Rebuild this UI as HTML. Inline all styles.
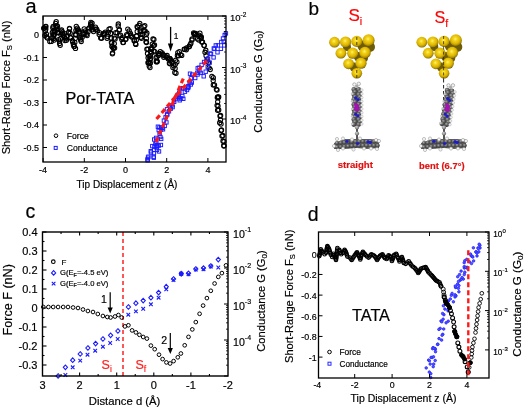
<!DOCTYPE html>
<html><head><meta charset="utf-8"><style>
html,body{margin:0;padding:0;background:#fff;width:525px;height:408px;overflow:hidden}
svg{display:block;will-change:transform;opacity:0.999}
text{font-family:"Liberation Sans",sans-serif;paint-order:stroke}
</style></head><body>
<svg width="525" height="408" viewBox="0 0 525 408">
<defs><radialGradient id="gold" cx="0.45" cy="0.4" r="0.62"><stop offset="0" stop-color="#fff27a"/><stop offset="0.25" stop-color="#f4d41c"/><stop offset="0.62" stop-color="#dfb600"/><stop offset="0.86" stop-color="#a88a00"/><stop offset="1" stop-color="#5c4a00"/></radialGradient><radialGradient id="carb" cx="0.4" cy="0.35" r="0.7"><stop offset="0" stop-color="#a8a8a8"/><stop offset="0.5" stop-color="#5a5a5a"/><stop offset="1" stop-color="#2e2e2e"/></radialGradient><radialGradient id="carb2" cx="0.4" cy="0.35" r="0.7"><stop offset="0" stop-color="#d0d0d0"/><stop offset="0.6" stop-color="#8a8a8a"/><stop offset="1" stop-color="#505050"/></radialGradient></defs>
<rect width="525" height="408" fill="#fff"/>
<g fill="none" stroke="#000" stroke-width="1.05"><circle cx="44.5" cy="28.0" r="2.15"/><circle cx="45.9" cy="26.3" r="2.15"/><circle cx="45.4" cy="30.7" r="2.15"/><circle cx="46.4" cy="34.2" r="2.15"/><circle cx="47.4" cy="38.1" r="2.15"/><circle cx="49.8" cy="41.5" r="2.15"/><circle cx="51.8" cy="37.6" r="2.15"/><circle cx="52.3" cy="32.7" r="2.15"/><circle cx="52.8" cy="27.8" r="2.15"/><circle cx="53.1" cy="31.4" r="2.15"/><circle cx="53.5" cy="35.0" r="2.15"/><circle cx="53.8" cy="38.6" r="2.15"/><circle cx="54.3" cy="34.8" r="2.15"/><circle cx="54.8" cy="31.0" r="2.15"/><circle cx="55.2" cy="27.2" r="2.15"/><circle cx="55.7" cy="23.4" r="2.15"/><circle cx="56.7" cy="25.8" r="2.15"/><circle cx="57.2" cy="29.8" r="2.15"/><circle cx="57.7" cy="32.7" r="2.15"/><circle cx="58.7" cy="39.6" r="2.15"/><circle cx="59.6" cy="43.5" r="2.15"/><circle cx="60.3" cy="38.9" r="2.15"/><circle cx="60.9" cy="34.4" r="2.15"/><circle cx="61.6" cy="29.8" r="2.15"/><circle cx="62.6" cy="32.2" r="2.15"/><circle cx="63.6" cy="35.2" r="2.15"/><circle cx="65.5" cy="38.6" r="2.15"/><circle cx="65.0" cy="40.5" r="2.15"/><circle cx="66.8" cy="36.6" r="2.15"/><circle cx="68.5" cy="32.7" r="2.15"/><circle cx="69.5" cy="28.8" r="2.15"/><circle cx="70.2" cy="33.2" r="2.15"/><circle cx="70.9" cy="37.6" r="2.15"/><circle cx="72.4" cy="40.5" r="2.15"/><circle cx="73.4" cy="44.5" r="2.15"/><circle cx="74.4" cy="46.4" r="2.15"/><circle cx="74.8" cy="42.4" r="2.15"/><circle cx="75.2" cy="38.4" r="2.15"/><circle cx="75.5" cy="34.3" r="2.15"/><circle cx="75.9" cy="30.3" r="2.15"/><circle cx="76.3" cy="26.3" r="2.15"/><circle cx="77.3" cy="29.8" r="2.15"/><circle cx="78.8" cy="32.7" r="2.15"/><circle cx="79.7" cy="37.6" r="2.15"/><circle cx="81.2" cy="41.5" r="2.15"/><circle cx="82.2" cy="37.3" r="2.15"/><circle cx="83.2" cy="33.0" r="2.15"/><circle cx="84.2" cy="28.8" r="2.15"/><circle cx="85.1" cy="33.2" r="2.15"/><circle cx="87.1" cy="35.6" r="2.15"/><circle cx="88.1" cy="31.7" r="2.15"/><circle cx="89.1" cy="27.8" r="2.15"/><circle cx="91.0" cy="24.9" r="2.15"/><circle cx="90.6" cy="24.2" r="2.15"/><circle cx="91.2" cy="27.2" r="2.15"/><circle cx="92.4" cy="29.7" r="2.15"/><circle cx="95.5" cy="27.2" r="2.15"/><circle cx="97.3" cy="30.9" r="2.15"/><circle cx="99.2" cy="34.6" r="2.15"/><circle cx="101.6" cy="38.3" r="2.15"/><circle cx="104.1" cy="34.6" r="2.15"/><circle cx="105.3" cy="32.1" r="2.15"/><circle cx="107.7" cy="36.4" r="2.15"/><circle cx="108.3" cy="32.8" r="2.15"/><circle cx="109.0" cy="29.1" r="2.15"/><circle cx="110.8" cy="33.4" r="2.15"/><circle cx="111.1" cy="38.0" r="2.15"/><circle cx="111.4" cy="42.5" r="2.15"/><circle cx="112.0" cy="46.2" r="2.15"/><circle cx="113.3" cy="48.0" r="2.15"/><circle cx="112.6" cy="52.9" r="2.15"/><circle cx="113.4" cy="48.2" r="2.15"/><circle cx="114.3" cy="43.6" r="2.15"/><circle cx="115.1" cy="38.9" r="2.15"/><circle cx="115.7" cy="32.7" r="2.15"/><circle cx="118.2" cy="26.0" r="2.15"/><circle cx="119.4" cy="29.7" r="2.15"/><circle cx="120.6" cy="35.2" r="2.15"/><circle cx="121.8" cy="39.5" r="2.15"/><circle cx="123.0" cy="42.5" r="2.15"/><circle cx="125.5" cy="39.5" r="2.15"/><circle cx="126.7" cy="34.6" r="2.15"/><circle cx="129.2" cy="30.9" r="2.15"/><circle cx="130.4" cy="33.4" r="2.15"/><circle cx="132.2" cy="37.0" r="2.15"/><circle cx="134.1" cy="40.7" r="2.15"/><circle cx="135.9" cy="44.4" r="2.15"/><circle cx="136.3" cy="40.1" r="2.15"/><circle cx="136.8" cy="35.8" r="2.15"/><circle cx="137.2" cy="31.5" r="2.15"/><circle cx="137.7" cy="27.2" r="2.15"/><circle cx="139.0" cy="25.4" r="2.15"/><circle cx="140.2" cy="30.9" r="2.15"/><circle cx="140.8" cy="34.6" r="2.15"/><circle cx="141.4" cy="38.3" r="2.15"/><circle cx="142.2" cy="34.4" r="2.15"/><circle cx="143.1" cy="30.5" r="2.15"/><circle cx="143.9" cy="26.6" r="2.15"/><circle cx="145.1" cy="30.9" r="2.15"/><circle cx="146.3" cy="34.6" r="2.15"/><circle cx="146.4" cy="38.5" r="2.15"/><circle cx="146.5" cy="42.5" r="2.15"/><circle cx="146.9" cy="49.3" r="2.15"/><circle cx="147.5" cy="53.5" r="2.15"/><circle cx="148.1" cy="57.8" r="2.15"/><circle cx="148.5" cy="62.1" r="2.15"/><circle cx="149.0" cy="62.9" r="2.15"/><circle cx="150.0" cy="67.6" r="2.15"/><circle cx="150.1" cy="63.6" r="2.15"/><circle cx="150.2" cy="59.6" r="2.15"/><circle cx="150.4" cy="55.7" r="2.15"/><circle cx="150.5" cy="51.7" r="2.15"/><circle cx="151.7" cy="49.3" r="2.15"/><circle cx="152.3" cy="44.1" r="2.15"/><circle cx="153.0" cy="38.9" r="2.15"/><circle cx="153.6" cy="45.6" r="2.15"/><circle cx="154.8" cy="51.7" r="2.15"/><circle cx="156.0" cy="57.8" r="2.15"/><circle cx="156.7" cy="61.9" r="2.15"/><circle cx="157.2" cy="61.5" r="2.15"/><circle cx="158.5" cy="55.4" r="2.15"/><circle cx="160.3" cy="51.7" r="2.15"/><circle cx="162.1" cy="52.9" r="2.15"/><circle cx="164.0" cy="55.4" r="2.15"/><circle cx="165.8" cy="56.6" r="2.15"/><circle cx="167.6" cy="57.8" r="2.15"/><circle cx="169.5" cy="58.5" r="2.15"/><circle cx="170.0" cy="63.8" r="2.15"/><circle cx="170.7" cy="60.3" r="2.15"/><circle cx="171.9" cy="62.7" r="2.15"/><circle cx="172.9" cy="67.6" r="2.15"/><circle cx="174.8" cy="72.4" r="2.15"/><circle cx="175.1" cy="68.4" r="2.15"/><circle cx="175.3" cy="64.3" r="2.15"/><circle cx="175.6" cy="60.3" r="2.15"/><circle cx="177.4" cy="55.4" r="2.15"/><circle cx="179.3" cy="51.7" r="2.15"/><circle cx="181.7" cy="55.4" r="2.15"/><circle cx="184.2" cy="49.3" r="2.15"/><circle cx="186.6" cy="48.0" r="2.15"/><circle cx="189.1" cy="46.8" r="2.15"/><circle cx="190.9" cy="43.2" r="2.15"/><circle cx="192.1" cy="38.9" r="2.15"/><circle cx="194.0" cy="34.0" r="2.15"/><circle cx="194.7" cy="33.4" r="2.15"/><circle cx="195.8" cy="33.4" r="2.15"/><circle cx="197.6" cy="38.9" r="2.15"/><circle cx="198.9" cy="35.2" r="2.15"/><circle cx="200.7" cy="36.9" r="2.15"/><circle cx="201.3" cy="37.0" r="2.15"/><circle cx="202.5" cy="41.9" r="2.15"/><circle cx="204.2" cy="45.4" r="2.15"/><circle cx="205.0" cy="52.3" r="2.15"/><circle cx="206.1" cy="55.7" r="2.15"/><circle cx="207.3" cy="59.2" r="2.15"/><circle cx="208.4" cy="62.6" r="2.15"/><circle cx="210.2" cy="69.5" r="2.15"/><circle cx="211.9" cy="76.3" r="2.15"/><circle cx="213.2" cy="80.6" r="2.15"/><circle cx="214.5" cy="84.9" r="2.15"/><circle cx="217.0" cy="90.0" r="2.15"/><circle cx="218.7" cy="96.9" r="2.15"/><circle cx="217.3" cy="97.6" r="2.15"/><circle cx="217.7" cy="101.8" r="2.15"/><circle cx="218.0" cy="106.0" r="2.15"/><circle cx="218.7" cy="110.0" r="2.15"/><circle cx="220.0" cy="116.0" r="2.15"/><circle cx="220.5" cy="120.0" r="2.15"/><circle cx="221.0" cy="124.0" r="2.15"/><circle cx="221.5" cy="130.0" r="2.15"/><circle cx="222.0" cy="136.0" r="2.15"/><circle cx="223.0" cy="141.0" r="2.15"/><circle cx="224.0" cy="146.0" r="2.15"/><circle cx="43.7" cy="28.2" r="2.15"/><circle cx="45.5" cy="26.7" r="2.15"/><circle cx="45.8" cy="29.0" r="2.15"/><circle cx="44.9" cy="35.5" r="2.15"/><circle cx="46.7" cy="37.0" r="2.15"/><circle cx="51.3" cy="41.4" r="2.15"/><circle cx="52.8" cy="37.5" r="2.15"/><circle cx="53.2" cy="26.4" r="2.15"/><circle cx="54.2" cy="40.1" r="2.15"/><circle cx="54.8" cy="32.0" r="2.15"/><circle cx="56.2" cy="21.7" r="2.15"/><circle cx="57.5" cy="26.2" r="2.15"/><circle cx="56.6" cy="27.9" r="2.15"/><circle cx="58.8" cy="32.6" r="2.15"/><circle cx="59.4" cy="41.1" r="2.15"/><circle cx="60.2" cy="45.2" r="2.15"/><circle cx="61.3" cy="31.0" r="2.15"/><circle cx="62.4" cy="33.9" r="2.15"/><circle cx="64.7" cy="33.6" r="2.15"/><circle cx="64.4" cy="37.5" r="2.15"/><circle cx="66.4" cy="40.2" r="2.15"/><circle cx="68.9" cy="31.9" r="2.15"/><circle cx="69.5" cy="28.3" r="2.15"/><circle cx="70.5" cy="37.9" r="2.15"/><circle cx="72.7" cy="42.1" r="2.15"/><circle cx="73.9" cy="46.2" r="2.15"/><circle cx="75.5" cy="48.4" r="2.15"/><circle cx="75.9" cy="35.0" r="2.15"/><circle cx="77.4" cy="28.2" r="2.15"/><circle cx="78.5" cy="30.1" r="2.15"/><circle cx="79.4" cy="31.5" r="2.15"/><circle cx="80.7" cy="37.9" r="2.15"/><circle cx="80.6" cy="39.8" r="2.15"/><circle cx="85.3" cy="30.8" r="2.15"/><circle cx="83.9" cy="34.4" r="2.15"/><circle cx="86.8" cy="34.2" r="2.15"/><circle cx="88.5" cy="28.9" r="2.15"/><circle cx="92.1" cy="23.1" r="2.15"/><circle cx="90.9" cy="22.4" r="2.15"/><circle cx="91.9" cy="26.5" r="2.15"/><circle cx="93.5" cy="31.6" r="2.15"/><circle cx="95.5" cy="29.2" r="2.15"/><circle cx="96.7" cy="29.2" r="2.15"/><circle cx="99.5" cy="32.7" r="2.15"/><circle cx="100.7" cy="37.9" r="2.15"/><circle cx="104.4" cy="33.2" r="2.15"/><circle cx="103.9" cy="33.6" r="2.15"/><circle cx="107.1" cy="38.2" r="2.15"/><circle cx="110.2" cy="28.6" r="2.15"/><circle cx="110.7" cy="33.5" r="2.15"/><circle cx="111.8" cy="42.9" r="2.15"/><circle cx="112.2" cy="46.7" r="2.15"/><circle cx="114.6" cy="48.0" r="2.15"/><circle cx="112.4" cy="53.8" r="2.15"/><circle cx="114.3" cy="38.1" r="2.15"/><circle cx="117.1" cy="32.8" r="2.15"/><circle cx="118.3" cy="24.0" r="2.15"/><circle cx="119.1" cy="30.0" r="2.15"/><circle cx="119.2" cy="35.7" r="2.15"/><circle cx="122.2" cy="37.7" r="2.15"/><circle cx="123.4" cy="42.4" r="2.15"/><circle cx="126.0" cy="38.9" r="2.15"/><circle cx="127.3" cy="35.6" r="2.15"/><circle cx="127.8" cy="29.1" r="2.15"/><circle cx="130.9" cy="35.3" r="2.15"/><circle cx="131.5" cy="36.8" r="2.15"/><circle cx="134.4" cy="40.0" r="2.15"/><circle cx="135.5" cy="43.7" r="2.15"/><circle cx="136.4" cy="36.2" r="2.15"/><circle cx="137.1" cy="26.7" r="2.15"/><circle cx="139.8" cy="23.5" r="2.15"/><circle cx="140.4" cy="31.8" r="2.15"/><circle cx="140.8" cy="37.2" r="2.15"/><circle cx="144.8" cy="25.6" r="2.15"/><circle cx="144.2" cy="30.6" r="2.15"/><circle cx="146.9" cy="33.0" r="2.15"/><circle cx="146.0" cy="41.8" r="2.15"/><circle cx="147.9" cy="49.1" r="2.15"/><circle cx="149.2" cy="56.5" r="2.15"/><circle cx="148.0" cy="62.7" r="2.15"/><circle cx="150.2" cy="62.7" r="2.15"/><circle cx="149.2" cy="66.1" r="2.15"/><circle cx="150.3" cy="58.4" r="2.15"/><circle cx="151.4" cy="53.1" r="2.15"/><circle cx="150.8" cy="48.4" r="2.15"/><circle cx="153.9" cy="39.5" r="2.15"/><circle cx="154.5" cy="45.0" r="2.15"/><circle cx="153.7" cy="50.9" r="2.15"/><circle cx="156.9" cy="56.9" r="2.15"/><circle cx="156.2" cy="61.6" r="2.15"/><circle cx="157.0" cy="61.1" r="2.15"/><circle cx="159.8" cy="54.0" r="2.15"/><circle cx="158.8" cy="53.5" r="2.15"/><circle cx="163.2" cy="54.8" r="2.15"/><circle cx="163.8" cy="57.2" r="2.15"/><circle cx="167.1" cy="55.5" r="2.15"/><circle cx="168.3" cy="59.1" r="2.15"/><circle cx="170.0" cy="58.6" r="2.15"/><circle cx="169.4" cy="63.2" r="2.15"/><circle cx="169.9" cy="58.6" r="2.15"/><circle cx="172.2" cy="61.8" r="2.15"/><circle cx="173.8" cy="65.8" r="2.15"/><circle cx="176.0" cy="73.2" r="2.15"/><circle cx="176.9" cy="61.9" r="2.15"/><circle cx="178.6" cy="55.7" r="2.15"/><circle cx="177.8" cy="52.7" r="2.15"/><circle cx="180.7" cy="54.6" r="2.15"/><circle cx="184.7" cy="49.4" r="2.15"/><circle cx="186.3" cy="49.8" r="2.15"/><circle cx="189.4" cy="46.2" r="2.15"/><circle cx="190.2" cy="44.6" r="2.15"/><circle cx="192.0" cy="40.0" r="2.15"/><circle cx="193.6" cy="32.8" r="2.15"/><circle cx="194.8" cy="34.7" r="2.15"/><circle cx="194.8" cy="34.6" r="2.15"/><circle cx="198.9" cy="40.1" r="2.15"/><circle cx="199.9" cy="33.2" r="2.15"/><circle cx="201.1" cy="38.4" r="2.15"/><circle cx="199.9" cy="36.1" r="2.15"/><circle cx="201.8" cy="42.0" r="2.15"/><circle cx="204.0" cy="45.3" r="2.15"/><circle cx="205.8" cy="50.3" r="2.15"/><circle cx="207.1" cy="61.1" r="2.15"/><circle cx="209.1" cy="67.8" r="2.15"/><circle cx="213.3" cy="77.7" r="2.15"/><circle cx="213.3" cy="84.9" r="2.15"/><circle cx="216.4" cy="89.3" r="2.15"/><circle cx="218.3" cy="97.5" r="2.15"/><circle cx="217.6" cy="97.0" r="2.15"/><circle cx="217.1" cy="105.3" r="2.15"/><circle cx="217.6" cy="110.2" r="2.15"/><circle cx="220.6" cy="115.5" r="2.15"/><circle cx="219.7" cy="122.7" r="2.15"/><circle cx="221.1" cy="130.4" r="2.15"/><circle cx="222.8" cy="135.5" r="2.15"/><circle cx="223.9" cy="141.5" r="2.15"/><circle cx="223.8" cy="145.5" r="2.15"/></g>
<g fill="none" stroke="#1a1aff" stroke-width="0.95"><rect x="145.9" y="157.6" width="3.4" height="3.4"/><rect x="146.7" y="155.0" width="3.4" height="3.4"/><rect x="149.3" y="150.8" width="3.4" height="3.4"/><rect x="151.9" y="155.0" width="3.4" height="3.4"/><rect x="152.2" y="151.6" width="3.4" height="3.4"/><rect x="152.4" y="148.2" width="3.4" height="3.4"/><rect x="152.7" y="144.8" width="3.4" height="3.4"/><rect x="155.3" y="143.9" width="3.4" height="3.4"/><rect x="157.0" y="143.9" width="3.4" height="3.4"/><rect x="155.3" y="148.2" width="3.4" height="3.4"/><rect x="155.0" y="144.2" width="3.4" height="3.4"/><rect x="154.7" y="140.2" width="3.4" height="3.4"/><rect x="154.4" y="136.2" width="3.4" height="3.4"/><rect x="158.7" y="135.3" width="3.4" height="3.4"/><rect x="157.9" y="131.9" width="3.4" height="3.4"/><rect x="157.0" y="128.4" width="3.4" height="3.4"/><rect x="156.2" y="125.0" width="3.4" height="3.4"/><rect x="159.6" y="125.9" width="3.4" height="3.4"/><rect x="161.3" y="127.6" width="3.4" height="3.4"/><rect x="163.0" y="124.2" width="3.4" height="3.4"/><rect x="164.7" y="120.7" width="3.4" height="3.4"/><rect x="163.9" y="115.6" width="3.4" height="3.4"/><rect x="165.6" y="112.6" width="3.4" height="3.4"/><rect x="167.3" y="109.6" width="3.4" height="3.4"/><rect x="169.0" y="107.0" width="3.4" height="3.4"/><rect x="170.7" y="103.6" width="3.4" height="3.4"/><rect x="172.5" y="100.1" width="3.4" height="3.4"/><rect x="174.2" y="96.7" width="3.4" height="3.4"/><rect x="176.7" y="95.0" width="3.4" height="3.4"/><rect x="179.3" y="96.7" width="3.4" height="3.4"/><rect x="175.0" y="95.2" width="3.4" height="3.4"/><rect x="177.6" y="90.9" width="3.4" height="3.4"/><rect x="180.2" y="86.6" width="3.4" height="3.4"/><rect x="185.3" y="88.3" width="3.4" height="3.4"/><rect x="186.6" y="84.5" width="3.4" height="3.4"/><rect x="187.9" y="80.6" width="3.4" height="3.4"/><rect x="189.2" y="76.7" width="3.4" height="3.4"/><rect x="190.5" y="72.9" width="3.4" height="3.4"/><rect x="195.6" y="71.2" width="3.4" height="3.4"/><rect x="199.0" y="71.2" width="3.4" height="3.4"/><rect x="197.3" y="66.0" width="3.4" height="3.4"/><rect x="199.9" y="63.2" width="3.4" height="3.4"/><rect x="202.4" y="60.3" width="3.4" height="3.4"/><rect x="205.0" y="57.5" width="3.4" height="3.4"/><rect x="209.3" y="52.3" width="3.4" height="3.4"/><rect x="212.8" y="47.2" width="3.4" height="3.4"/><rect x="216.2" y="43.7" width="3.4" height="3.4"/><rect x="219.6" y="40.3" width="3.4" height="3.4"/><rect x="221.3" y="36.8" width="3.4" height="3.4"/><rect x="223.0" y="33.4" width="3.4" height="3.4"/><rect x="145.9" y="158.6" width="3.4" height="3.4"/><rect x="146.3" y="156.0" width="3.4" height="3.4"/><rect x="149.1" y="149.5" width="3.4" height="3.4"/><rect x="152.1" y="156.0" width="3.4" height="3.4"/><rect x="150.6" y="144.4" width="3.4" height="3.4"/><rect x="154.9" y="145.8" width="3.4" height="3.4"/><rect x="159.2" y="143.3" width="3.4" height="3.4"/><rect x="157.3" y="149.7" width="3.4" height="3.4"/><rect x="153.7" y="142.0" width="3.4" height="3.4"/><rect x="152.5" y="137.8" width="3.4" height="3.4"/><rect x="159.5" y="137.2" width="3.4" height="3.4"/><rect x="157.7" y="125.8" width="3.4" height="3.4"/><rect x="160.8" y="126.2" width="3.4" height="3.4"/><rect x="159.3" y="128.0" width="3.4" height="3.4"/><rect x="162.2" y="118.9" width="3.4" height="3.4"/><rect x="165.3" y="113.3" width="3.4" height="3.4"/><rect x="165.3" y="107.6" width="3.4" height="3.4"/><rect x="170.9" y="105.4" width="3.4" height="3.4"/><rect x="168.3" y="105.3" width="3.4" height="3.4"/><rect x="172.3" y="98.4" width="3.4" height="3.4"/><rect x="177.6" y="96.7" width="3.4" height="3.4"/><rect x="181.6" y="97.1" width="3.4" height="3.4"/><rect x="176.5" y="92.9" width="3.4" height="3.4"/><rect x="181.5" y="86.7" width="3.4" height="3.4"/><rect x="186.4" y="86.3" width="3.4" height="3.4"/><rect x="189.1" y="82.8" width="3.4" height="3.4"/><rect x="188.3" y="72.0" width="3.4" height="3.4"/><rect x="195.9" y="72.8" width="3.4" height="3.4"/><rect x="197.7" y="69.6" width="3.4" height="3.4"/><rect x="196.0" y="66.6" width="3.4" height="3.4"/><rect x="206.3" y="57.0" width="3.4" height="3.4"/><rect x="208.6" y="51.8" width="3.4" height="3.4"/><rect x="212.1" y="46.8" width="3.4" height="3.4"/><rect x="214.1" y="43.7" width="3.4" height="3.4"/><rect x="222.0" y="39.9" width="3.4" height="3.4"/><rect x="224.2" y="31.7" width="3.4" height="3.4"/><rect x="178.0" y="98.6" width="3.4" height="3.4"/><rect x="180.6" y="94.3" width="3.4" height="3.4"/><rect x="183.2" y="90.0" width="3.4" height="3.4"/><rect x="186.6" y="85.4" width="3.4" height="3.4"/><rect x="190.1" y="80.9" width="3.4" height="3.4"/><rect x="193.5" y="76.3" width="3.4" height="3.4"/><rect x="202.0" y="74.6" width="3.4" height="3.4"/><rect x="204.0" y="70.0" width="3.4" height="3.4"/><rect x="206.0" y="65.5" width="3.4" height="3.4"/><rect x="208.0" y="60.9" width="3.4" height="3.4"/><rect x="211.9" y="55.7" width="3.4" height="3.4"/><rect x="215.8" y="50.6" width="3.4" height="3.4"/><rect x="219.2" y="47.1" width="3.4" height="3.4"/><rect x="222.6" y="43.7" width="3.4" height="3.4"/></g>
<line x1="156.00" y1="142.00" x2="184.00" y2="77.00" stroke="#ff1818" stroke-width="3.2" stroke-dasharray="5 3"/>
<line x1="156.50" y1="119.00" x2="209.00" y2="58.00" stroke="#ff1818" stroke-width="3.2" stroke-dasharray="5 3"/>
<rect x="43" y="16" width="183" height="146" fill="none" stroke="#000" stroke-width="1.3"/>
<line x1="43.10" y1="162.00" x2="43.10" y2="158.00" stroke="#000" stroke-width="1.0" />
<line x1="43.10" y1="16.00" x2="43.10" y2="20.00" stroke="#000" stroke-width="1.0" />
<text x="43.10" y="172.50" font-size="9" text-anchor="middle" fill="#000" stroke="#000" stroke-width="0.18" >-4</text>
<line x1="84.30" y1="162.00" x2="84.30" y2="158.00" stroke="#000" stroke-width="1.0" />
<line x1="84.30" y1="16.00" x2="84.30" y2="20.00" stroke="#000" stroke-width="1.0" />
<text x="84.30" y="172.50" font-size="9" text-anchor="middle" fill="#000" stroke="#000" stroke-width="0.18" >-2</text>
<line x1="125.50" y1="162.00" x2="125.50" y2="158.00" stroke="#000" stroke-width="1.0" />
<line x1="125.50" y1="16.00" x2="125.50" y2="20.00" stroke="#000" stroke-width="1.0" />
<text x="125.50" y="172.50" font-size="9" text-anchor="middle" fill="#000" stroke="#000" stroke-width="0.18" >0</text>
<line x1="166.70" y1="162.00" x2="166.70" y2="158.00" stroke="#000" stroke-width="1.0" />
<line x1="166.70" y1="16.00" x2="166.70" y2="20.00" stroke="#000" stroke-width="1.0" />
<text x="166.70" y="172.50" font-size="9" text-anchor="middle" fill="#000" stroke="#000" stroke-width="0.18" >2</text>
<line x1="207.90" y1="162.00" x2="207.90" y2="158.00" stroke="#000" stroke-width="1.0" />
<line x1="207.90" y1="16.00" x2="207.90" y2="20.00" stroke="#000" stroke-width="1.0" />
<text x="207.90" y="172.50" font-size="9" text-anchor="middle" fill="#000" stroke="#000" stroke-width="0.18" >4</text>
<line x1="43.00" y1="35.00" x2="47.00" y2="35.00" stroke="#000" stroke-width="1.0" />
<text x="39.00" y="38.20" font-size="9" text-anchor="end" fill="#000" stroke="#000" stroke-width="0.18" >0</text>
<line x1="43.00" y1="57.50" x2="47.00" y2="57.50" stroke="#000" stroke-width="1.0" />
<text x="39.00" y="60.70" font-size="9" text-anchor="end" fill="#000" stroke="#000" stroke-width="0.18" >-0.1</text>
<line x1="43.00" y1="80.00" x2="47.00" y2="80.00" stroke="#000" stroke-width="1.0" />
<text x="39.00" y="83.20" font-size="9" text-anchor="end" fill="#000" stroke="#000" stroke-width="0.18" >-0.2</text>
<line x1="43.00" y1="102.50" x2="47.00" y2="102.50" stroke="#000" stroke-width="1.0" />
<text x="39.00" y="105.70" font-size="9" text-anchor="end" fill="#000" stroke="#000" stroke-width="0.18" >-0.3</text>
<line x1="43.00" y1="125.00" x2="47.00" y2="125.00" stroke="#000" stroke-width="1.0" />
<text x="39.00" y="128.20" font-size="9" text-anchor="end" fill="#000" stroke="#000" stroke-width="0.18" >-0.4</text>
<line x1="43.00" y1="147.50" x2="47.00" y2="147.50" stroke="#000" stroke-width="1.0" />
<text x="39.00" y="150.70" font-size="9" text-anchor="end" fill="#000" stroke="#000" stroke-width="0.18" >-0.5</text>
<line x1="226.00" y1="16.00" x2="222.00" y2="16.00" stroke="#000" stroke-width="1.0" />
<line x1="226.00" y1="52.00" x2="224.00" y2="52.00" stroke="#000" stroke-width="0.8" />
<line x1="226.00" y1="42.93" x2="224.00" y2="42.93" stroke="#000" stroke-width="0.8" />
<line x1="226.00" y1="36.49" x2="224.00" y2="36.49" stroke="#000" stroke-width="0.8" />
<line x1="226.00" y1="31.50" x2="224.00" y2="31.50" stroke="#000" stroke-width="0.8" />
<line x1="226.00" y1="27.43" x2="224.00" y2="27.43" stroke="#000" stroke-width="0.8" />
<line x1="226.00" y1="23.98" x2="224.00" y2="23.98" stroke="#000" stroke-width="0.8" />
<line x1="226.00" y1="20.99" x2="224.00" y2="20.99" stroke="#000" stroke-width="0.8" />
<line x1="226.00" y1="18.36" x2="224.00" y2="18.36" stroke="#000" stroke-width="0.8" />
<line x1="226.00" y1="67.50" x2="222.00" y2="67.50" stroke="#000" stroke-width="1.0" />
<line x1="226.00" y1="103.50" x2="224.00" y2="103.50" stroke="#000" stroke-width="0.8" />
<line x1="226.00" y1="94.43" x2="224.00" y2="94.43" stroke="#000" stroke-width="0.8" />
<line x1="226.00" y1="87.99" x2="224.00" y2="87.99" stroke="#000" stroke-width="0.8" />
<line x1="226.00" y1="83.00" x2="224.00" y2="83.00" stroke="#000" stroke-width="0.8" />
<line x1="226.00" y1="78.93" x2="224.00" y2="78.93" stroke="#000" stroke-width="0.8" />
<line x1="226.00" y1="75.48" x2="224.00" y2="75.48" stroke="#000" stroke-width="0.8" />
<line x1="226.00" y1="72.49" x2="224.00" y2="72.49" stroke="#000" stroke-width="0.8" />
<line x1="226.00" y1="69.86" x2="224.00" y2="69.86" stroke="#000" stroke-width="0.8" />
<line x1="226.00" y1="119.00" x2="222.00" y2="119.00" stroke="#000" stroke-width="1.0" />
<text stroke="#000" stroke-width="0.18" x="230" y="21.0" font-size="9.5">10<tspan font-size="6.5" dy="-4.5">-2</tspan></text>
<text stroke="#000" stroke-width="0.18" x="230" y="72.5" font-size="9.5">10<tspan font-size="6.5" dy="-4.5">-3</tspan></text>
<text stroke="#000" stroke-width="0.18" x="230" y="124.0" font-size="9.5">10<tspan font-size="6.5" dy="-4.5">-4</tspan></text>
<text x="127.00" y="188.00" font-size="10" text-anchor="middle" fill="#000" stroke="#000" stroke-width="0.18" >Tip Displacement z (&#197;)</text>
<text stroke="#000" stroke-width="0.18" transform="translate(9.8,87.4) rotate(-90)" font-size="11.1" text-anchor="middle">Short-Range Force F<tspan font-size="7.6" dy="2">S</tspan><tspan dy="-2"> (nN)</tspan></text>
<text stroke="#000" stroke-width="0.18" transform="translate(261.6,81.6) rotate(-90)" font-size="11.3" text-anchor="middle">Conductance G (G<tspan font-size="8" dy="1.5">0</tspan><tspan dy="-1.5">)</tspan></text>
<line x1="170.60" y1="26.90" x2="170.60" y2="45.00" stroke="#000" stroke-width="1.3" />
<path d="M167.9 43.5L170.6 51.4L173.3 43.5Z" fill="#000"/>
<text x="176.20" y="38.80" font-size="8.4" text-anchor="middle" fill="#000" stroke="#000" stroke-width="0.18" >1</text>
<text x="25.50" y="12.80" font-size="20" text-anchor="start" fill="#000" stroke="#000" stroke-width="0.18" >a</text>
<text x="65.50" y="103.60" font-size="16.3" text-anchor="start" fill="#000" stroke="#000" stroke-width="0.18" >Por-TATA</text>
<g fill="none" stroke="#000" stroke-width="1.0"><circle cx="56.0" cy="135.7" r="1.8"/></g>
<text x="66.80" y="138.70" font-size="8.6" text-anchor="start" fill="#000" stroke="#000" stroke-width="0.18" >Force</text>
<g fill="none" stroke="#1a1aff" stroke-width="1.0"><rect x="54.2" y="146.4" width="3" height="3"/></g>
<text x="66.80" y="150.90" font-size="8.6" text-anchor="start" fill="#000" stroke="#000" stroke-width="0.18" >Conductance</text>
<text x="308.50" y="14.70" font-size="19" text-anchor="start" fill="#000" stroke="#000" stroke-width="0.18" >b</text>
<text stroke="#ff0000" stroke-width="0.18" x="348.4" y="21" font-size="17" fill="#ff0000">S<tspan font-size="10.8" dy="4">i</tspan></text>
<text stroke="#ff0000" stroke-width="0.18" x="434.4" y="22.9" font-size="16.2" fill="#ff0000">S<tspan font-size="10.5" dy="3.8">f</tspan></text>
<circle cx="363.0" cy="46.0" r="5.5" fill="#6e5c08"/>
<circle cx="370.0" cy="47.0" r="5" fill="#6e5c08"/>
<circle cx="359.0" cy="57.0" r="5" fill="#6e5c08"/>
<circle cx="354.0" cy="67.0" r="4.5" fill="#6e5c08"/>
<circle cx="347.0" cy="47.0" r="4" fill="#6e5c08"/>
<circle cx="364.0" cy="58.0" r="4" fill="#6e5c08"/>
<circle cx="334.5" cy="42.2" r="5.4" fill="url(#gold)"/>
<circle cx="345.6" cy="42.0" r="5.6" fill="url(#gold)"/>
<circle cx="356.8" cy="41.4" r="5.6" fill="url(#gold)"/>
<circle cx="368.6" cy="40.2" r="6.0" fill="url(#gold)"/>
<circle cx="340.9" cy="53.2" r="5.4" fill="url(#gold)"/>
<circle cx="352.7" cy="53.2" r="5.6" fill="url(#gold)"/>
<circle cx="365.0" cy="52.6" r="5.8" fill="url(#gold)"/>
<circle cx="348.6" cy="63.8" r="5.4" fill="url(#gold)"/>
<circle cx="361.0" cy="63.2" r="5.6" fill="url(#gold)"/>
<circle cx="356.8" cy="73.2" r="5.3" fill="url(#gold)"/>
<line x1="356.8" y1="37" x2="356.8" y2="45" stroke="#3a3000" stroke-width="0.9" stroke-dasharray="3 2"/>
<line x1="356.8" y1="70" x2="356.8" y2="78" stroke="#3a3000" stroke-width="0.9" stroke-dasharray="3 2"/>
<circle cx="450.3" cy="46.0" r="5.5" fill="#6e5c08"/>
<circle cx="457.3" cy="47.0" r="5" fill="#6e5c08"/>
<circle cx="446.3" cy="57.0" r="5" fill="#6e5c08"/>
<circle cx="441.3" cy="67.0" r="4.5" fill="#6e5c08"/>
<circle cx="434.3" cy="47.0" r="4" fill="#6e5c08"/>
<circle cx="451.3" cy="58.0" r="4" fill="#6e5c08"/>
<circle cx="421.8" cy="42.2" r="5.4" fill="url(#gold)"/>
<circle cx="432.9" cy="42.0" r="5.6" fill="url(#gold)"/>
<circle cx="444.1" cy="41.4" r="5.6" fill="url(#gold)"/>
<circle cx="455.9" cy="40.2" r="6.0" fill="url(#gold)"/>
<circle cx="428.2" cy="53.2" r="5.4" fill="url(#gold)"/>
<circle cx="440.0" cy="53.2" r="5.6" fill="url(#gold)"/>
<circle cx="452.3" cy="52.6" r="5.8" fill="url(#gold)"/>
<circle cx="435.9" cy="63.8" r="5.4" fill="url(#gold)"/>
<circle cx="448.3" cy="63.2" r="5.6" fill="url(#gold)"/>
<circle cx="444.1" cy="73.2" r="5.3" fill="url(#gold)"/>
<line x1="443.6" y1="36" x2="443.6" y2="79" stroke="#2a2400" stroke-width="0.9" stroke-dasharray="3 2.2" opacity="0.85"/>
<g transform="translate(356.80,107.00) rotate(-0.00)"><rect x="-4.2" y="-19.0" width="8.4" height="38.0" rx="3" fill="#4a4a4a"/><circle cx="-3.0" cy="-17.5" r="2.4" fill="url(#carb)"/><circle cx="1.8" cy="-17.5" r="2.4" fill="url(#carb)"/><circle cx="-1.8" cy="-15.0" r="2.4" fill="url(#carb)"/><circle cx="3.0" cy="-15.0" r="2.4" fill="url(#carb)"/><circle cx="-3.0" cy="-12.5" r="2.4" fill="url(#carb)"/><circle cx="1.8" cy="-12.5" r="2.4" fill="url(#carb)"/><circle cx="-1.8" cy="-10.0" r="2.4" fill="url(#carb)"/><circle cx="3.0" cy="-10.0" r="2.4" fill="url(#carb)"/><circle cx="-3.0" cy="-7.5" r="2.4" fill="url(#carb)"/><circle cx="1.8" cy="-7.5" r="2.4" fill="url(#carb)"/><circle cx="-1.8" cy="-5.0" r="2.4" fill="url(#carb)"/><circle cx="3.0" cy="-5.0" r="2.4" fill="url(#carb)"/><circle cx="-3.0" cy="-2.5" r="2.4" fill="url(#carb)"/><circle cx="1.8" cy="-2.5" r="2.4" fill="url(#carb)"/><circle cx="-1.8" cy="0.0" r="2.4" fill="url(#carb)"/><circle cx="3.0" cy="0.0" r="2.4" fill="url(#carb)"/><circle cx="-3.0" cy="2.5" r="2.4" fill="url(#carb)"/><circle cx="1.8" cy="2.5" r="2.4" fill="url(#carb)"/><circle cx="-1.8" cy="5.0" r="2.4" fill="url(#carb)"/><circle cx="3.0" cy="5.0" r="2.4" fill="url(#carb)"/><circle cx="-3.0" cy="7.5" r="2.4" fill="url(#carb)"/><circle cx="1.8" cy="7.5" r="2.4" fill="url(#carb)"/><circle cx="-1.8" cy="10.0" r="2.4" fill="url(#carb)"/><circle cx="3.0" cy="10.0" r="2.4" fill="url(#carb)"/><circle cx="-3.0" cy="12.5" r="2.4" fill="url(#carb)"/><circle cx="1.8" cy="12.5" r="2.4" fill="url(#carb)"/><circle cx="-1.8" cy="15.0" r="2.4" fill="url(#carb)"/><circle cx="3.0" cy="15.0" r="2.4" fill="url(#carb)"/><circle cx="-3.0" cy="17.5" r="2.4" fill="url(#carb)"/><circle cx="1.8" cy="17.5" r="2.4" fill="url(#carb)"/><circle cx="5.0" cy="-17.0" r="1.35" fill="#f0f0f0" stroke="#a0a0a0" stroke-width="0.4"/><circle cx="5.0" cy="-13.2" r="1.35" fill="#f0f0f0" stroke="#a0a0a0" stroke-width="0.4"/><circle cx="-4.8" cy="-13.2" r="1.2" fill="#c8c8c8"/><circle cx="5.0" cy="-9.4" r="1.35" fill="#f0f0f0" stroke="#a0a0a0" stroke-width="0.4"/><circle cx="5.0" cy="-5.7" r="1.35" fill="#f0f0f0" stroke="#a0a0a0" stroke-width="0.4"/><circle cx="-4.8" cy="-5.7" r="1.2" fill="#c8c8c8"/><circle cx="5.0" cy="-1.9" r="1.35" fill="#f0f0f0" stroke="#a0a0a0" stroke-width="0.4"/><circle cx="5.0" cy="1.9" r="1.35" fill="#f0f0f0" stroke="#a0a0a0" stroke-width="0.4"/><circle cx="-4.8" cy="1.9" r="1.2" fill="#c8c8c8"/><circle cx="5.0" cy="5.7" r="1.35" fill="#f0f0f0" stroke="#a0a0a0" stroke-width="0.4"/><circle cx="5.0" cy="9.4" r="1.35" fill="#f0f0f0" stroke="#a0a0a0" stroke-width="0.4"/><circle cx="-4.8" cy="9.4" r="1.2" fill="#c8c8c8"/><circle cx="5.0" cy="13.2" r="1.35" fill="#f0f0f0" stroke="#a0a0a0" stroke-width="0.4"/><circle cx="5.0" cy="17.0" r="1.35" fill="#f0f0f0" stroke="#a0a0a0" stroke-width="0.4"/><circle cx="-4.8" cy="17.0" r="1.2" fill="#c8c8c8"/><circle cx="-1.2" cy="-9.2" r="1.5" fill="#1a1ad0"/><circle cx="1.2" cy="-7.6" r="1.5" fill="#1a1ad0"/><circle cx="-1.2" cy="7.2" r="1.5" fill="#1a1ad0"/><circle cx="1.2" cy="8.8" r="1.5" fill="#1a1ad0"/><path d="M-3 -4.0Q1 -4.5 2.5 -1.0Q1.5 1.5 2.8 3.5Q-1 5.0 -3 3.0Q-1.5 0.0 -3 -4.0Z" fill="#a312b3"/><circle cx="-2.4" cy="-22.5" r="1.7" fill="#f4f4f4" stroke="#8a8a8a" stroke-width="0.6"/><circle cx="2.0" cy="-23.2" r="1.7" fill="#f4f4f4" stroke="#8a8a8a" stroke-width="0.6"/><circle cx="0" cy="-20.8" r="1.5" fill="#a8a8a8"/></g>
<line x1="357.0" y1="125.0" x2="357.0" y2="140.0" stroke="#555" stroke-width="2"/>
<circle cx="357.0" cy="127.5" r="2.1" fill="url(#carb2)"/>
<circle cx="357.0" cy="133.5" r="2.1" fill="url(#carb2)"/>
<path d="M334.0 143L345.0 139L357.0 139L370.0 139L379.0 140L379.0 148L367.0 149L357.0 148L345.0 149L334.0 149Z" fill="#5e5e5e"/>
<circle cx="337.0" cy="143.1" r="2.1" fill="url(#carb)"/>
<circle cx="340.7" cy="142.8" r="2.1" fill="url(#carb)"/>
<circle cx="344.4" cy="142.5" r="2.1" fill="url(#carb)"/>
<circle cx="348.1" cy="142.2" r="2.1" fill="url(#carb)"/>
<circle cx="351.8" cy="141.9" r="2.1" fill="url(#carb)"/>
<circle cx="355.5" cy="141.6" r="2.1" fill="url(#carb)"/>
<circle cx="359.2" cy="141.5" r="2.1" fill="url(#carb)"/>
<circle cx="362.9" cy="141.5" r="2.1" fill="url(#carb)"/>
<circle cx="366.6" cy="141.5" r="2.1" fill="url(#carb)"/>
<circle cx="370.3" cy="141.5" r="2.1" fill="url(#carb)"/>
<circle cx="374.0" cy="141.5" r="2.1" fill="url(#carb)"/>
<circle cx="377.7" cy="141.5" r="2.1" fill="url(#carb)"/>
<circle cx="337.0" cy="147.1" r="2.1" fill="url(#carb)"/>
<circle cx="340.7" cy="146.8" r="2.1" fill="url(#carb)"/>
<circle cx="344.4" cy="146.5" r="2.1" fill="url(#carb)"/>
<circle cx="348.1" cy="146.2" r="2.1" fill="url(#carb)"/>
<circle cx="351.8" cy="145.9" r="2.1" fill="url(#carb)"/>
<circle cx="355.5" cy="145.6" r="2.1" fill="url(#carb)"/>
<circle cx="359.2" cy="145.5" r="2.1" fill="url(#carb)"/>
<circle cx="362.9" cy="145.5" r="2.1" fill="url(#carb)"/>
<circle cx="366.6" cy="145.5" r="2.1" fill="url(#carb)"/>
<circle cx="370.3" cy="145.5" r="2.1" fill="url(#carb)"/>
<circle cx="374.0" cy="145.5" r="2.1" fill="url(#carb)"/>
<circle cx="377.7" cy="145.5" r="2.1" fill="url(#carb)"/>
<circle cx="337.0" cy="139.0" r="1.6" fill="#f4f4f4" stroke="#8c8c8c" stroke-width="0.5"/>
<circle cx="343.0" cy="138.5" r="1.6" fill="#f4f4f4" stroke="#8c8c8c" stroke-width="0.5"/>
<circle cx="334.0" cy="146.0" r="1.6" fill="#f4f4f4" stroke="#8c8c8c" stroke-width="0.5"/>
<circle cx="338.0" cy="150.0" r="1.6" fill="#f4f4f4" stroke="#8c8c8c" stroke-width="0.5"/>
<circle cx="343.0" cy="148.5" r="1.6" fill="#f4f4f4" stroke="#8c8c8c" stroke-width="0.5"/>
<circle cx="353.5" cy="149.5" r="1.6" fill="#f4f4f4" stroke="#8c8c8c" stroke-width="0.5"/>
<circle cx="364.0" cy="148.5" r="1.6" fill="#f4f4f4" stroke="#8c8c8c" stroke-width="0.5"/>
<circle cx="371.0" cy="148.5" r="1.6" fill="#f4f4f4" stroke="#8c8c8c" stroke-width="0.5"/>
<circle cx="377.0" cy="149.0" r="1.6" fill="#f4f4f4" stroke="#8c8c8c" stroke-width="0.5"/>
<circle cx="376.0" cy="140.0" r="1.6" fill="#f4f4f4" stroke="#8c8c8c" stroke-width="0.5"/>
<circle cx="379.0" cy="141.0" r="1.6" fill="#f4f4f4" stroke="#8c8c8c" stroke-width="0.5"/>
<circle cx="352.0" cy="139.5" r="1.6" fill="#f4f4f4" stroke="#8c8c8c" stroke-width="0.5"/>
<circle cx="360.0" cy="138.5" r="1.6" fill="#f4f4f4" stroke="#8c8c8c" stroke-width="0.5"/>
<ellipse cx="347.0" cy="141.5" rx="1.7" ry="1.4" fill="#1a1ad0"/>
<ellipse cx="357.7" cy="143.6" rx="1.7" ry="1.4" fill="#1a1ad0"/>
<ellipse cx="368.0" cy="142.0" rx="1.7" ry="1.4" fill="#1a1ad0"/>
<ellipse cx="370.2" cy="142.5" rx="1.7" ry="1.4" fill="#1a1ad0"/>
<line x1="443.6" y1="79" x2="443.6" y2="118" stroke="#222" stroke-width="1" stroke-dasharray="3.5 2.5"/>
<g transform="translate(447.50,107.50) rotate(8.75)"><rect x="-4.2" y="-18.5" width="8.4" height="37.0" rx="3" fill="#4a4a4a"/><circle cx="-3.0" cy="-17.0" r="2.4" fill="url(#carb)"/><circle cx="1.8" cy="-17.0" r="2.4" fill="url(#carb)"/><circle cx="-1.8" cy="-14.6" r="2.4" fill="url(#carb)"/><circle cx="3.0" cy="-14.6" r="2.4" fill="url(#carb)"/><circle cx="-3.0" cy="-12.1" r="2.4" fill="url(#carb)"/><circle cx="1.8" cy="-12.1" r="2.4" fill="url(#carb)"/><circle cx="-1.8" cy="-9.7" r="2.4" fill="url(#carb)"/><circle cx="3.0" cy="-9.7" r="2.4" fill="url(#carb)"/><circle cx="-3.0" cy="-7.3" r="2.4" fill="url(#carb)"/><circle cx="1.8" cy="-7.3" r="2.4" fill="url(#carb)"/><circle cx="-1.8" cy="-4.9" r="2.4" fill="url(#carb)"/><circle cx="3.0" cy="-4.9" r="2.4" fill="url(#carb)"/><circle cx="-3.0" cy="-2.4" r="2.4" fill="url(#carb)"/><circle cx="1.8" cy="-2.4" r="2.4" fill="url(#carb)"/><circle cx="-1.8" cy="0.0" r="2.4" fill="url(#carb)"/><circle cx="3.0" cy="0.0" r="2.4" fill="url(#carb)"/><circle cx="-3.0" cy="2.4" r="2.4" fill="url(#carb)"/><circle cx="1.8" cy="2.4" r="2.4" fill="url(#carb)"/><circle cx="-1.8" cy="4.9" r="2.4" fill="url(#carb)"/><circle cx="3.0" cy="4.9" r="2.4" fill="url(#carb)"/><circle cx="-3.0" cy="7.3" r="2.4" fill="url(#carb)"/><circle cx="1.8" cy="7.3" r="2.4" fill="url(#carb)"/><circle cx="-1.8" cy="9.7" r="2.4" fill="url(#carb)"/><circle cx="3.0" cy="9.7" r="2.4" fill="url(#carb)"/><circle cx="-3.0" cy="12.1" r="2.4" fill="url(#carb)"/><circle cx="1.8" cy="12.1" r="2.4" fill="url(#carb)"/><circle cx="-1.8" cy="14.6" r="2.4" fill="url(#carb)"/><circle cx="3.0" cy="14.6" r="2.4" fill="url(#carb)"/><circle cx="-3.0" cy="17.0" r="2.4" fill="url(#carb)"/><circle cx="1.8" cy="17.0" r="2.4" fill="url(#carb)"/><circle cx="5.0" cy="-16.5" r="1.35" fill="#f0f0f0" stroke="#a0a0a0" stroke-width="0.4"/><circle cx="5.0" cy="-12.8" r="1.35" fill="#f0f0f0" stroke="#a0a0a0" stroke-width="0.4"/><circle cx="-4.8" cy="-12.8" r="1.2" fill="#c8c8c8"/><circle cx="5.0" cy="-9.2" r="1.35" fill="#f0f0f0" stroke="#a0a0a0" stroke-width="0.4"/><circle cx="5.0" cy="-5.5" r="1.35" fill="#f0f0f0" stroke="#a0a0a0" stroke-width="0.4"/><circle cx="-4.8" cy="-5.5" r="1.2" fill="#c8c8c8"/><circle cx="5.0" cy="-1.8" r="1.35" fill="#f0f0f0" stroke="#a0a0a0" stroke-width="0.4"/><circle cx="5.0" cy="1.8" r="1.35" fill="#f0f0f0" stroke="#a0a0a0" stroke-width="0.4"/><circle cx="-4.8" cy="1.8" r="1.2" fill="#c8c8c8"/><circle cx="5.0" cy="5.5" r="1.35" fill="#f0f0f0" stroke="#a0a0a0" stroke-width="0.4"/><circle cx="5.0" cy="9.2" r="1.35" fill="#f0f0f0" stroke="#a0a0a0" stroke-width="0.4"/><circle cx="-4.8" cy="9.2" r="1.2" fill="#c8c8c8"/><circle cx="5.0" cy="12.8" r="1.35" fill="#f0f0f0" stroke="#a0a0a0" stroke-width="0.4"/><circle cx="5.0" cy="16.5" r="1.35" fill="#f0f0f0" stroke="#a0a0a0" stroke-width="0.4"/><circle cx="-4.8" cy="16.5" r="1.2" fill="#c8c8c8"/><circle cx="-1.2" cy="-9.0" r="1.5" fill="#1a1ad0"/><circle cx="1.2" cy="-7.4" r="1.5" fill="#1a1ad0"/><circle cx="-1.2" cy="7.0" r="1.5" fill="#1a1ad0"/><circle cx="1.2" cy="8.6" r="1.5" fill="#1a1ad0"/><path d="M-3 -4.0Q1 -4.5 2.5 -1.0Q1.5 1.5 2.8 3.5Q-1 5.0 -3 3.0Q-1.5 0.0 -3 -4.0Z" fill="#a312b3"/><circle cx="-2.4" cy="-22.0" r="1.7" fill="#f4f4f4" stroke="#8a8a8a" stroke-width="0.6"/><circle cx="2.0" cy="-22.7" r="1.7" fill="#f4f4f4" stroke="#8a8a8a" stroke-width="0.6"/><circle cx="0" cy="-20.3" r="1.5" fill="#a8a8a8"/></g>
<line x1="444.0" y1="125.0" x2="444.0" y2="140.0" stroke="#555" stroke-width="2"/>
<circle cx="444.0" cy="127.5" r="2.1" fill="url(#carb2)"/>
<circle cx="444.0" cy="133.5" r="2.1" fill="url(#carb2)"/>
<path d="M421.0 143L432.0 139L444.0 139L457.0 139L466.0 140L466.0 148L454.0 149L444.0 148L432.0 149L421.0 149Z" fill="#5e5e5e"/>
<circle cx="424.0" cy="143.1" r="2.1" fill="url(#carb)"/>
<circle cx="427.7" cy="142.8" r="2.1" fill="url(#carb)"/>
<circle cx="431.4" cy="142.5" r="2.1" fill="url(#carb)"/>
<circle cx="435.1" cy="142.2" r="2.1" fill="url(#carb)"/>
<circle cx="438.8" cy="141.9" r="2.1" fill="url(#carb)"/>
<circle cx="442.5" cy="141.6" r="2.1" fill="url(#carb)"/>
<circle cx="446.2" cy="141.5" r="2.1" fill="url(#carb)"/>
<circle cx="449.9" cy="141.5" r="2.1" fill="url(#carb)"/>
<circle cx="453.6" cy="141.5" r="2.1" fill="url(#carb)"/>
<circle cx="457.3" cy="141.5" r="2.1" fill="url(#carb)"/>
<circle cx="461.0" cy="141.5" r="2.1" fill="url(#carb)"/>
<circle cx="464.7" cy="141.5" r="2.1" fill="url(#carb)"/>
<circle cx="424.0" cy="147.1" r="2.1" fill="url(#carb)"/>
<circle cx="427.7" cy="146.8" r="2.1" fill="url(#carb)"/>
<circle cx="431.4" cy="146.5" r="2.1" fill="url(#carb)"/>
<circle cx="435.1" cy="146.2" r="2.1" fill="url(#carb)"/>
<circle cx="438.8" cy="145.9" r="2.1" fill="url(#carb)"/>
<circle cx="442.5" cy="145.6" r="2.1" fill="url(#carb)"/>
<circle cx="446.2" cy="145.5" r="2.1" fill="url(#carb)"/>
<circle cx="449.9" cy="145.5" r="2.1" fill="url(#carb)"/>
<circle cx="453.6" cy="145.5" r="2.1" fill="url(#carb)"/>
<circle cx="457.3" cy="145.5" r="2.1" fill="url(#carb)"/>
<circle cx="461.0" cy="145.5" r="2.1" fill="url(#carb)"/>
<circle cx="464.7" cy="145.5" r="2.1" fill="url(#carb)"/>
<circle cx="424.0" cy="139.0" r="1.6" fill="#f4f4f4" stroke="#8c8c8c" stroke-width="0.5"/>
<circle cx="430.0" cy="138.5" r="1.6" fill="#f4f4f4" stroke="#8c8c8c" stroke-width="0.5"/>
<circle cx="421.0" cy="146.0" r="1.6" fill="#f4f4f4" stroke="#8c8c8c" stroke-width="0.5"/>
<circle cx="425.0" cy="150.0" r="1.6" fill="#f4f4f4" stroke="#8c8c8c" stroke-width="0.5"/>
<circle cx="430.0" cy="148.5" r="1.6" fill="#f4f4f4" stroke="#8c8c8c" stroke-width="0.5"/>
<circle cx="440.5" cy="149.5" r="1.6" fill="#f4f4f4" stroke="#8c8c8c" stroke-width="0.5"/>
<circle cx="451.0" cy="148.5" r="1.6" fill="#f4f4f4" stroke="#8c8c8c" stroke-width="0.5"/>
<circle cx="458.0" cy="148.5" r="1.6" fill="#f4f4f4" stroke="#8c8c8c" stroke-width="0.5"/>
<circle cx="464.0" cy="149.0" r="1.6" fill="#f4f4f4" stroke="#8c8c8c" stroke-width="0.5"/>
<circle cx="463.0" cy="140.0" r="1.6" fill="#f4f4f4" stroke="#8c8c8c" stroke-width="0.5"/>
<circle cx="466.0" cy="141.0" r="1.6" fill="#f4f4f4" stroke="#8c8c8c" stroke-width="0.5"/>
<circle cx="439.0" cy="139.5" r="1.6" fill="#f4f4f4" stroke="#8c8c8c" stroke-width="0.5"/>
<circle cx="447.0" cy="138.5" r="1.6" fill="#f4f4f4" stroke="#8c8c8c" stroke-width="0.5"/>
<ellipse cx="434.0" cy="141.5" rx="1.7" ry="1.4" fill="#1a1ad0"/>
<ellipse cx="444.7" cy="143.6" rx="1.7" ry="1.4" fill="#1a1ad0"/>
<ellipse cx="455.0" cy="142.0" rx="1.7" ry="1.4" fill="#1a1ad0"/>
<ellipse cx="457.2" cy="142.5" rx="1.7" ry="1.4" fill="#1a1ad0"/>
<text x="337.70" y="167.70" font-size="9.6" text-anchor="start" fill="#e01010" stroke="#e01010" stroke-width="0.18" font-weight="bold">straight</text>
<text x="419.10" y="169.40" font-size="9.4" text-anchor="start" fill="#e01010" stroke="#e01010" stroke-width="0.18" font-weight="bold">bent (6.7&#176;)</text>
<line x1="123.00" y1="232.00" x2="123.00" y2="376.00" stroke="#ff2020" stroke-width="1.5" stroke-dasharray="4 3"/>
<g fill="none" stroke="#000" stroke-width="1.0"><circle cx="43.3" cy="307.0" r="1.85"/><circle cx="48.4" cy="307.0" r="1.85"/><circle cx="53.2" cy="307.0" r="1.85"/><circle cx="58.1" cy="307.0" r="1.85"/><circle cx="63.2" cy="307.0" r="1.85"/><circle cx="68.0" cy="307.0" r="1.85"/><circle cx="73.1" cy="307.5" r="1.85"/><circle cx="78.0" cy="308.0" r="1.85"/><circle cx="83.0" cy="309.5" r="1.85"/><circle cx="87.9" cy="311.0" r="1.85"/><circle cx="93.0" cy="312.0" r="1.85"/><circle cx="97.8" cy="314.0" r="1.85"/><circle cx="102.9" cy="316.0" r="1.85"/><circle cx="107.3" cy="317.0" r="1.85"/><circle cx="110.6" cy="317.5" r="1.85"/><circle cx="115.0" cy="316.5" r="1.85"/><circle cx="118.4" cy="315.0" r="1.85"/><circle cx="121.7" cy="317.5" r="1.85"/><circle cx="124.9" cy="326.4" r="1.85"/><circle cx="128.4" cy="325.3" r="1.85"/><circle cx="132.1" cy="330.4" r="1.85"/><circle cx="135.9" cy="332.4" r="1.85"/><circle cx="139.4" cy="334.8" r="1.85"/><circle cx="143.2" cy="337.0" r="1.85"/><circle cx="146.9" cy="338.6" r="1.85"/><circle cx="150.9" cy="345.6" r="1.85"/><circle cx="154.7" cy="349.2" r="1.85"/><circle cx="159.0" cy="354.7" r="1.85"/><circle cx="162.6" cy="359.1" r="1.85"/><circle cx="166.4" cy="362.4" r="1.85"/><circle cx="170.1" cy="363.5" r="1.85"/><circle cx="173.6" cy="361.1" r="1.85"/><circle cx="177.8" cy="357.3" r="1.85"/><circle cx="180.9" cy="353.5" r="1.85"/><circle cx="184.7" cy="345.3" r="1.85"/><circle cx="188.5" cy="336.9" r="1.85"/><circle cx="192.3" cy="329.4" r="1.85"/><circle cx="195.8" cy="322.1" r="1.85"/><circle cx="199.6" cy="313.8" r="1.85"/><circle cx="203.1" cy="305.6" r="1.85"/><circle cx="206.9" cy="298.1" r="1.85"/><circle cx="210.8" cy="290.8" r="1.85"/><circle cx="214.6" cy="283.5" r="1.85"/><circle cx="218.3" cy="276.9" r="1.85"/><circle cx="221.9" cy="273.1" r="1.85"/><circle cx="226.0" cy="265.4" r="1.85"/></g>
<g fill="none" stroke="#1a1aff" stroke-width="1.1"><path d="M58.1 373.7L60.2 376.0L58.1 378.3L56.0 376.0Z"/><path d="M65.4 365.0L67.5 367.3L65.4 369.6L63.3 367.3Z"/><path d="M72.7 357.9L74.8 360.2L72.7 362.5L70.6 360.2Z"/><path d="M80.2 351.7L82.3 354.0L80.2 356.3L78.1 354.0Z"/><path d="M87.9 345.7L90.0 348.0L87.9 350.3L85.8 348.0Z"/><path d="M95.6 341.3L97.7 343.6L95.6 345.9L93.5 343.6Z"/><path d="M102.9 336.7L105.0 339.0L102.9 341.3L100.8 339.0Z"/><path d="M110.6 333.0L112.7 335.3L110.6 337.6L108.5 335.3Z"/><path d="M117.9 328.7L120.0 331.0L117.9 333.3L115.8 331.0Z"/><path d="M128.4 304.7L130.5 307.0L128.4 309.3L126.3 307.0Z"/><path d="M135.9 300.9L138.0 303.2L135.9 305.5L133.8 303.2Z"/><path d="M143.2 298.3L145.3 300.6L143.2 302.9L141.1 300.6Z"/><path d="M150.9 295.4L153.0 297.7L150.9 300.0L148.8 297.7Z"/><path d="M158.6 290.3L160.7 292.6L158.6 294.9L156.5 292.6Z"/><path d="M166.2 284.4L168.3 286.7L166.2 289.0L164.2 286.7Z"/><path d="M173.5 276.7L175.6 279.0L173.5 281.3L171.4 279.0Z"/><path d="M181.2 271.4L183.3 273.8L181.2 276.1L179.2 273.8Z"/><path d="M188.5 271.0L190.6 273.3L188.5 275.6L186.4 273.3Z"/><path d="M195.8 266.7L197.9 269.0L195.8 271.3L193.7 269.0Z"/><path d="M203.5 265.8L205.6 268.1L203.5 270.4L201.4 268.1Z"/><path d="M210.8 263.7L212.9 266.0L210.8 268.3L208.7 266.0Z"/><path d="M218.3 257.3L220.4 259.6L218.3 261.9L216.2 259.6Z"/></g>
<g fill="none" stroke="#1a1aff" stroke-width="1.1"><path d="M63.6 373.2L67.2 376.8M67.2 373.2L63.6 376.8"/><path d="M70.9 365.5L74.5 369.1M74.5 365.5L70.9 369.1"/><path d="M78.4 358.8L82.0 362.4M82.0 358.8L78.4 362.4"/><path d="M85.7 352.9L89.3 356.5M89.3 352.9L85.7 356.5"/><path d="M93.4 348.9L97.0 352.5M97.0 348.9L93.4 352.5"/><path d="M101.1 344.9L104.7 348.5M104.7 344.9L101.1 348.5"/><path d="M108.4 341.2L112.0 344.8M112.0 341.2L108.4 344.8"/><path d="M115.9 337.2L119.5 340.8M119.5 337.2L115.9 340.8"/><path d="M126.5 312.9L130.1 316.5M130.1 312.9L126.5 316.5"/><path d="M134.1 309.6L137.7 313.2M137.7 309.6L134.1 313.2"/><path d="M141.4 307.0L145.0 310.6M145.0 307.0L141.4 310.6"/><path d="M149.1 302.5L152.7 306.1M152.7 302.5L149.1 306.1"/><path d="M156.8 295.9L160.4 299.5M160.4 295.9L156.8 299.5"/><path d="M164.4 287.6L168.1 291.2M168.1 287.6L164.4 291.2"/><path d="M171.7 278.2L175.3 281.8M175.3 278.2L171.7 281.8"/><path d="M179.4 271.9L183.1 275.6M183.1 271.9L179.4 275.6"/><path d="M186.7 272.4L190.3 276.0M190.3 272.4L186.7 276.0"/><path d="M194.0 267.8L197.6 271.4M197.6 267.8L194.0 271.4"/><path d="M201.7 267.4L205.3 271.0M205.3 267.4L201.7 271.0"/><path d="M209.0 264.7L212.6 268.3M212.6 264.7L209.0 268.3"/><path d="M216.5 265.7L220.1 269.3M220.1 265.7L216.5 269.3"/></g>
<circle cx="181.25" cy="273.75" r="2.2" fill="#1a1aff"/>
<rect x="42.5" y="232" width="185.5" height="144" fill="none" stroke="#000" stroke-width="1.4"/>
<text x="42.50" y="388.50" font-size="11" text-anchor="middle" fill="#000" stroke="#000" stroke-width="0.18" >3</text>
<line x1="61.05" y1="376.00" x2="61.05" y2="374.00" stroke="#000" stroke-width="1.1" />
<line x1="61.05" y1="232.00" x2="61.05" y2="234.00" stroke="#000" stroke-width="1.1" />
<line x1="79.60" y1="376.00" x2="79.60" y2="372.50" stroke="#000" stroke-width="1.1" />
<line x1="79.60" y1="232.00" x2="79.60" y2="235.50" stroke="#000" stroke-width="1.1" />
<text x="79.60" y="388.50" font-size="11" text-anchor="middle" fill="#000" stroke="#000" stroke-width="0.18" >2</text>
<line x1="98.15" y1="376.00" x2="98.15" y2="374.00" stroke="#000" stroke-width="1.1" />
<line x1="98.15" y1="232.00" x2="98.15" y2="234.00" stroke="#000" stroke-width="1.1" />
<line x1="116.70" y1="376.00" x2="116.70" y2="372.50" stroke="#000" stroke-width="1.1" />
<line x1="116.70" y1="232.00" x2="116.70" y2="235.50" stroke="#000" stroke-width="1.1" />
<text x="116.70" y="388.50" font-size="11" text-anchor="middle" fill="#000" stroke="#000" stroke-width="0.18" >1</text>
<line x1="135.25" y1="376.00" x2="135.25" y2="374.00" stroke="#000" stroke-width="1.1" />
<line x1="135.25" y1="232.00" x2="135.25" y2="234.00" stroke="#000" stroke-width="1.1" />
<line x1="153.80" y1="376.00" x2="153.80" y2="372.50" stroke="#000" stroke-width="1.1" />
<line x1="153.80" y1="232.00" x2="153.80" y2="235.50" stroke="#000" stroke-width="1.1" />
<text x="153.80" y="388.50" font-size="11" text-anchor="middle" fill="#000" stroke="#000" stroke-width="0.18" >0</text>
<line x1="172.35" y1="376.00" x2="172.35" y2="374.00" stroke="#000" stroke-width="1.1" />
<line x1="172.35" y1="232.00" x2="172.35" y2="234.00" stroke="#000" stroke-width="1.1" />
<line x1="190.90" y1="376.00" x2="190.90" y2="372.50" stroke="#000" stroke-width="1.1" />
<line x1="190.90" y1="232.00" x2="190.90" y2="235.50" stroke="#000" stroke-width="1.1" />
<text x="190.90" y="388.50" font-size="11" text-anchor="middle" fill="#000" stroke="#000" stroke-width="0.18" >-1</text>
<line x1="209.45" y1="376.00" x2="209.45" y2="374.00" stroke="#000" stroke-width="1.1" />
<line x1="209.45" y1="232.00" x2="209.45" y2="234.00" stroke="#000" stroke-width="1.1" />
<text x="228.00" y="388.50" font-size="11" text-anchor="middle" fill="#000" stroke="#000" stroke-width="0.18" >-2</text>
<line x1="42.50" y1="232.00" x2="46.50" y2="232.00" stroke="#000" stroke-width="1.1" />
<text x="37.50" y="236.00" font-size="11" text-anchor="end" fill="#000" stroke="#000" stroke-width="0.18" >0.4</text>
<line x1="42.50" y1="241.50" x2="44.50" y2="241.50" stroke="#000" stroke-width="1.1" />
<line x1="42.50" y1="251.00" x2="46.50" y2="251.00" stroke="#000" stroke-width="1.1" />
<text x="37.50" y="255.00" font-size="11" text-anchor="end" fill="#000" stroke="#000" stroke-width="0.18" >0.3</text>
<line x1="42.50" y1="260.50" x2="44.50" y2="260.50" stroke="#000" stroke-width="1.1" />
<line x1="42.50" y1="270.00" x2="46.50" y2="270.00" stroke="#000" stroke-width="1.1" />
<text x="37.50" y="274.00" font-size="11" text-anchor="end" fill="#000" stroke="#000" stroke-width="0.18" >0.2</text>
<line x1="42.50" y1="279.50" x2="44.50" y2="279.50" stroke="#000" stroke-width="1.1" />
<line x1="42.50" y1="289.00" x2="46.50" y2="289.00" stroke="#000" stroke-width="1.1" />
<text x="37.50" y="293.00" font-size="11" text-anchor="end" fill="#000" stroke="#000" stroke-width="0.18" >0.1</text>
<line x1="42.50" y1="298.50" x2="44.50" y2="298.50" stroke="#000" stroke-width="1.1" />
<line x1="42.50" y1="308.00" x2="46.50" y2="308.00" stroke="#000" stroke-width="1.1" />
<text x="37.50" y="312.00" font-size="11" text-anchor="end" fill="#000" stroke="#000" stroke-width="0.18" >0</text>
<line x1="42.50" y1="317.50" x2="44.50" y2="317.50" stroke="#000" stroke-width="1.1" />
<line x1="42.50" y1="327.00" x2="46.50" y2="327.00" stroke="#000" stroke-width="1.1" />
<text x="37.50" y="331.00" font-size="11" text-anchor="end" fill="#000" stroke="#000" stroke-width="0.18" >-0.1</text>
<line x1="42.50" y1="336.50" x2="44.50" y2="336.50" stroke="#000" stroke-width="1.1" />
<line x1="42.50" y1="346.00" x2="46.50" y2="346.00" stroke="#000" stroke-width="1.1" />
<text x="37.50" y="350.00" font-size="11" text-anchor="end" fill="#000" stroke="#000" stroke-width="0.18" >-0.2</text>
<line x1="42.50" y1="355.50" x2="44.50" y2="355.50" stroke="#000" stroke-width="1.1" />
<line x1="42.50" y1="365.00" x2="46.50" y2="365.00" stroke="#000" stroke-width="1.1" />
<text x="37.50" y="369.00" font-size="11" text-anchor="end" fill="#000" stroke="#000" stroke-width="0.18" >-0.3</text>
<line x1="228.00" y1="232.00" x2="224.00" y2="232.00" stroke="#000" stroke-width="1.0" />
<line x1="228.00" y1="257.16" x2="226.00" y2="257.16" stroke="#000" stroke-width="0.8" />
<line x1="228.00" y1="250.82" x2="226.00" y2="250.82" stroke="#000" stroke-width="0.8" />
<line x1="228.00" y1="246.33" x2="226.00" y2="246.33" stroke="#000" stroke-width="0.8" />
<line x1="228.00" y1="242.84" x2="226.00" y2="242.84" stroke="#000" stroke-width="0.8" />
<line x1="228.00" y1="239.99" x2="226.00" y2="239.99" stroke="#000" stroke-width="0.8" />
<line x1="228.00" y1="237.58" x2="226.00" y2="237.58" stroke="#000" stroke-width="0.8" />
<line x1="228.00" y1="235.49" x2="226.00" y2="235.49" stroke="#000" stroke-width="0.8" />
<line x1="228.00" y1="233.65" x2="226.00" y2="233.65" stroke="#000" stroke-width="0.8" />
<line x1="228.00" y1="268.00" x2="224.00" y2="268.00" stroke="#000" stroke-width="1.0" />
<line x1="228.00" y1="293.16" x2="226.00" y2="293.16" stroke="#000" stroke-width="0.8" />
<line x1="228.00" y1="286.82" x2="226.00" y2="286.82" stroke="#000" stroke-width="0.8" />
<line x1="228.00" y1="282.33" x2="226.00" y2="282.33" stroke="#000" stroke-width="0.8" />
<line x1="228.00" y1="278.84" x2="226.00" y2="278.84" stroke="#000" stroke-width="0.8" />
<line x1="228.00" y1="275.99" x2="226.00" y2="275.99" stroke="#000" stroke-width="0.8" />
<line x1="228.00" y1="273.58" x2="226.00" y2="273.58" stroke="#000" stroke-width="0.8" />
<line x1="228.00" y1="271.49" x2="226.00" y2="271.49" stroke="#000" stroke-width="0.8" />
<line x1="228.00" y1="269.65" x2="226.00" y2="269.65" stroke="#000" stroke-width="0.8" />
<line x1="228.00" y1="304.00" x2="224.00" y2="304.00" stroke="#000" stroke-width="1.0" />
<line x1="228.00" y1="329.16" x2="226.00" y2="329.16" stroke="#000" stroke-width="0.8" />
<line x1="228.00" y1="322.82" x2="226.00" y2="322.82" stroke="#000" stroke-width="0.8" />
<line x1="228.00" y1="318.33" x2="226.00" y2="318.33" stroke="#000" stroke-width="0.8" />
<line x1="228.00" y1="314.84" x2="226.00" y2="314.84" stroke="#000" stroke-width="0.8" />
<line x1="228.00" y1="311.99" x2="226.00" y2="311.99" stroke="#000" stroke-width="0.8" />
<line x1="228.00" y1="309.58" x2="226.00" y2="309.58" stroke="#000" stroke-width="0.8" />
<line x1="228.00" y1="307.49" x2="226.00" y2="307.49" stroke="#000" stroke-width="0.8" />
<line x1="228.00" y1="305.65" x2="226.00" y2="305.65" stroke="#000" stroke-width="0.8" />
<line x1="228.00" y1="340.00" x2="224.00" y2="340.00" stroke="#000" stroke-width="1.0" />
<line x1="228.00" y1="365.16" x2="226.00" y2="365.16" stroke="#000" stroke-width="0.8" />
<line x1="228.00" y1="358.82" x2="226.00" y2="358.82" stroke="#000" stroke-width="0.8" />
<line x1="228.00" y1="354.33" x2="226.00" y2="354.33" stroke="#000" stroke-width="0.8" />
<line x1="228.00" y1="350.84" x2="226.00" y2="350.84" stroke="#000" stroke-width="0.8" />
<line x1="228.00" y1="347.99" x2="226.00" y2="347.99" stroke="#000" stroke-width="0.8" />
<line x1="228.00" y1="345.58" x2="226.00" y2="345.58" stroke="#000" stroke-width="0.8" />
<line x1="228.00" y1="343.49" x2="226.00" y2="343.49" stroke="#000" stroke-width="0.8" />
<line x1="228.00" y1="341.65" x2="226.00" y2="341.65" stroke="#000" stroke-width="0.8" />
<line x1="228.00" y1="376.00" x2="224.00" y2="376.00" stroke="#000" stroke-width="1.0" />
<text stroke="#000" stroke-width="0.18" x="233" y="237.8" font-size="10.6">10<tspan font-size="7" dy="-5.5">-1</tspan></text>
<text stroke="#000" stroke-width="0.18" x="233" y="273.8" font-size="10.6">10<tspan font-size="7" dy="-5.5">-2</tspan></text>
<text stroke="#000" stroke-width="0.18" x="233" y="309.8" font-size="10.6">10<tspan font-size="7" dy="-5.5">-3</tspan></text>
<text stroke="#000" stroke-width="0.18" x="233" y="345.8" font-size="10.6">10<tspan font-size="7" dy="-5.5">-4</tspan></text>
<text x="124.60" y="404.50" font-size="11.3" text-anchor="middle" fill="#000" stroke="#000" stroke-width="0.18" >Distance d (&#197;)</text>
<text stroke="#000" stroke-width="0.18" transform="translate(12.2,299.8) rotate(-90)" font-size="12.6" text-anchor="middle">Force F (nN)</text>
<text stroke="#000" stroke-width="0.18" transform="translate(265,301) rotate(-90)" font-size="11.2" text-anchor="middle">Conductance G (G<tspan font-size="8" dy="1.5">0</tspan><tspan dy="-1.5">)</tspan></text>
<text x="25.50" y="217.60" font-size="19.5" text-anchor="start" fill="#000" stroke="#000" stroke-width="0.18" >c</text>
<g fill="none" stroke="#000" stroke-width="1.1"><circle cx="53.3" cy="261.7" r="1.8"/></g>
<text x="61.40" y="264.60" font-size="8" text-anchor="start" fill="#000" stroke="#000" stroke-width="0.18" >F</text>
<g fill="none" stroke="#1a1aff" stroke-width="1.1"><path d="M53.6 270.6L55.7 272.9L53.6 275.2L51.5 272.9Z"/></g>
<path d="M51.8 281.8L55.4 285.4M55.4 281.8L51.8 285.4" stroke="#1a1aff" stroke-width="1.1"/>
<text stroke="#000" stroke-width="0.18" x="60" y="275.4" font-size="7.6">G(E<tspan font-size="5.5" dy="1.5">F</tspan><tspan dy="-1.5">=-4.5 eV)</tspan></text>
<text stroke="#000" stroke-width="0.18" x="60" y="285.7" font-size="7.6">G(E<tspan font-size="5.5" dy="1.5">F</tspan><tspan dy="-1.5">=-4.0 eV)</tspan></text>
<line x1="110.20" y1="292.20" x2="110.20" y2="310.00" stroke="#000" stroke-width="1.2" />
<path d="M107.6 307.5L110.2 313.5L112.8 307.5Z" fill="#000"/>
<text x="104.00" y="302.50" font-size="10.5" text-anchor="middle" fill="#000" stroke="#000" stroke-width="0.18" >1</text>
<line x1="170.30" y1="333.00" x2="170.30" y2="350.50" stroke="#000" stroke-width="1.2" />
<path d="M167.7 348L170.3 354L172.9 348Z" fill="#000"/>
<text x="164.20" y="343.50" font-size="10.5" text-anchor="middle" fill="#000" stroke="#000" stroke-width="0.18" >2</text>
<text stroke="#ff2020" stroke-width="0.18" x="101.6" y="369.3" font-size="12.5" fill="#ff2020">S<tspan font-size="8.5" dy="3">i</tspan></text>
<text stroke="#ff2020" stroke-width="0.18" x="135.4" y="369.3" font-size="12.5" fill="#ff2020">S<tspan font-size="8.5" dy="3">f</tspan></text>
<g fill="#5858ff" stroke="#2a2aff" stroke-width="0.9"><circle cx="430.7" cy="377.5" r="1.25"/><circle cx="430.8" cy="373.7" r="1.25"/><circle cx="429.3" cy="372.1" r="1.25"/><circle cx="433.2" cy="366.7" r="1.25"/><circle cx="426.2" cy="367.9" r="1.25"/><circle cx="433.7" cy="364.1" r="1.25"/><circle cx="430.2" cy="364.1" r="1.25"/><circle cx="428.6" cy="360.1" r="1.25"/><circle cx="429.4" cy="360.8" r="1.25"/><circle cx="431.1" cy="357.4" r="1.25"/><circle cx="435.2" cy="360.5" r="1.25"/><circle cx="432.1" cy="357.5" r="1.25"/><circle cx="433.5" cy="356.8" r="1.25"/><circle cx="435.5" cy="351.7" r="1.25"/><circle cx="432.6" cy="348.7" r="1.25"/><circle cx="435.3" cy="349.3" r="1.25"/><circle cx="433.1" cy="347.6" r="1.25"/><circle cx="435.0" cy="348.5" r="1.25"/><circle cx="433.9" cy="348.3" r="1.25"/><circle cx="437.5" cy="344.4" r="1.25"/><circle cx="437.9" cy="344.2" r="1.25"/><circle cx="441.6" cy="340.1" r="1.25"/><circle cx="439.0" cy="338.6" r="1.25"/><circle cx="442.8" cy="334.3" r="1.25"/><circle cx="442.1" cy="335.2" r="1.25"/><circle cx="440.2" cy="328.4" r="1.25"/><circle cx="438.9" cy="329.4" r="1.25"/><circle cx="443.7" cy="329.0" r="1.25"/><circle cx="446.1" cy="322.8" r="1.25"/><circle cx="441.0" cy="321.0" r="1.25"/><circle cx="441.8" cy="321.8" r="1.25"/><circle cx="448.2" cy="321.2" r="1.25"/><circle cx="443.1" cy="319.2" r="1.25"/><circle cx="443.9" cy="314.7" r="1.25"/><circle cx="448.0" cy="310.8" r="1.25"/><circle cx="442.6" cy="313.5" r="1.25"/><circle cx="444.9" cy="309.1" r="1.25"/><circle cx="448.0" cy="309.4" r="1.25"/><circle cx="443.4" cy="305.8" r="1.25"/><circle cx="447.7" cy="305.1" r="1.25"/><circle cx="446.2" cy="304.1" r="1.25"/><circle cx="453.4" cy="301.8" r="1.25"/><circle cx="450.3" cy="299.0" r="1.25"/><circle cx="448.4" cy="301.1" r="1.25"/><circle cx="447.5" cy="301.2" r="1.25"/><circle cx="455.2" cy="295.3" r="1.25"/><circle cx="456.0" cy="295.8" r="1.25"/><circle cx="455.0" cy="296.9" r="1.25"/><circle cx="451.3" cy="295.3" r="1.25"/><circle cx="455.0" cy="294.9" r="1.25"/><circle cx="452.1" cy="293.4" r="1.25"/><circle cx="458.9" cy="291.8" r="1.25"/><circle cx="455.6" cy="287.2" r="1.25"/><circle cx="455.8" cy="287.5" r="1.25"/><circle cx="458.4" cy="288.3" r="1.25"/><circle cx="457.6" cy="284.1" r="1.25"/><circle cx="458.9" cy="285.6" r="1.25"/><circle cx="455.3" cy="286.0" r="1.25"/><circle cx="460.2" cy="280.2" r="1.25"/><circle cx="463.3" cy="279.1" r="1.25"/><circle cx="458.5" cy="281.4" r="1.25"/><circle cx="461.3" cy="279.2" r="1.25"/><circle cx="462.1" cy="277.5" r="1.25"/><circle cx="459.5" cy="274.6" r="1.25"/><circle cx="457.7" cy="276.7" r="1.25"/><circle cx="464.3" cy="274.5" r="1.25"/><circle cx="464.8" cy="272.2" r="1.25"/><circle cx="461.1" cy="271.1" r="1.25"/><circle cx="467.2" cy="267.9" r="1.25"/><circle cx="464.4" cy="268.0" r="1.25"/><circle cx="467.4" cy="267.4" r="1.25"/><circle cx="464.2" cy="266.7" r="1.25"/><circle cx="466.7" cy="267.8" r="1.25"/><circle cx="465.7" cy="267.2" r="1.25"/><circle cx="464.2" cy="262.7" r="1.25"/><circle cx="464.8" cy="260.7" r="1.25"/><circle cx="471.5" cy="263.5" r="1.25"/><circle cx="466.8" cy="259.3" r="1.25"/><circle cx="469.4" cy="261.8" r="1.25"/><circle cx="473.6" cy="260.9" r="1.25"/><circle cx="472.2" cy="256.4" r="1.25"/><circle cx="471.1" cy="255.7" r="1.25"/><circle cx="472.8" cy="257.0" r="1.25"/><circle cx="470.5" cy="254.1" r="1.25"/><circle cx="476.3" cy="251.8" r="1.25"/><circle cx="477.0" cy="255.9" r="1.25"/><circle cx="478.8" cy="251.8" r="1.25"/><circle cx="475.8" cy="251.9" r="1.25"/><circle cx="477.0" cy="253.1" r="1.25"/><circle cx="478.0" cy="247.9" r="1.25"/><circle cx="480.0" cy="247.9" r="1.25"/><circle cx="478.3" cy="248.5" r="1.25"/><circle cx="473.4" cy="247.8" r="1.25"/><circle cx="479.9" cy="245.3" r="1.25"/><circle cx="479.2" cy="244.2" r="1.25"/></g>
<g fill="none" stroke="#000" stroke-width="1.15"><circle cx="319.3" cy="256.1" r="1.75"/><circle cx="319.6" cy="254.8" r="1.75"/><circle cx="319.9" cy="253.4" r="1.75"/><circle cx="320.2" cy="252.1" r="1.75"/><circle cx="320.5" cy="250.7" r="1.75"/><circle cx="320.8" cy="249.4" r="1.75"/><circle cx="321.8" cy="250.9" r="1.75"/><circle cx="322.7" cy="252.3" r="1.75"/><circle cx="324.6" cy="254.2" r="1.75"/><circle cx="326.0" cy="252.8" r="1.75"/><circle cx="326.3" cy="251.5" r="1.75"/><circle cx="326.6" cy="250.1" r="1.75"/><circle cx="326.8" cy="248.8" r="1.75"/><circle cx="327.1" cy="247.4" r="1.75"/><circle cx="327.4" cy="246.1" r="1.75"/><circle cx="328.1" cy="247.3" r="1.75"/><circle cx="328.9" cy="248.5" r="1.75"/><circle cx="329.4" cy="250.1" r="1.75"/><circle cx="329.9" cy="251.6" r="1.75"/><circle cx="330.3" cy="253.1" r="1.75"/><circle cx="330.8" cy="254.7" r="1.75"/><circle cx="332.2" cy="257.0" r="1.75"/><circle cx="332.9" cy="255.3" r="1.75"/><circle cx="333.6" cy="253.7" r="1.75"/><circle cx="334.2" cy="255.3" r="1.75"/><circle cx="334.9" cy="256.9" r="1.75"/><circle cx="335.5" cy="258.5" r="1.75"/><circle cx="336.0" cy="259.9" r="1.75"/><circle cx="336.2" cy="258.4" r="1.75"/><circle cx="336.4" cy="256.9" r="1.75"/><circle cx="336.5" cy="255.4" r="1.75"/><circle cx="336.7" cy="253.9" r="1.75"/><circle cx="336.9" cy="252.5" r="1.75"/><circle cx="337.0" cy="251.0" r="1.75"/><circle cx="337.2" cy="249.5" r="1.75"/><circle cx="337.4" cy="248.0" r="1.75"/><circle cx="339.3" cy="249.9" r="1.75"/><circle cx="339.9" cy="251.3" r="1.75"/><circle cx="340.6" cy="252.8" r="1.75"/><circle cx="341.2" cy="254.2" r="1.75"/><circle cx="343.1" cy="252.8" r="1.75"/><circle cx="343.9" cy="251.4" r="1.75"/><circle cx="344.6" cy="249.9" r="1.75"/><circle cx="345.3" cy="251.1" r="1.75"/><circle cx="346.0" cy="252.3" r="1.75"/><circle cx="346.5" cy="253.7" r="1.75"/><circle cx="346.9" cy="255.2" r="1.75"/><circle cx="347.4" cy="256.6" r="1.75"/><circle cx="349.8" cy="257.5" r="1.75"/><circle cx="350.8" cy="258.7" r="1.75"/><circle cx="351.7" cy="259.9" r="1.75"/><circle cx="352.7" cy="258.5" r="1.75"/><circle cx="353.6" cy="257.0" r="1.75"/><circle cx="354.6" cy="255.6" r="1.75"/><circle cx="355.4" cy="254.5" r="1.75"/><circle cx="356.2" cy="253.4" r="1.75"/><circle cx="357.0" cy="252.3" r="1.75"/><circle cx="357.6" cy="253.6" r="1.75"/><circle cx="358.3" cy="254.8" r="1.75"/><circle cx="358.9" cy="256.1" r="1.75"/><circle cx="359.6" cy="257.8" r="1.75"/><circle cx="360.3" cy="259.4" r="1.75"/><circle cx="360.8" cy="257.8" r="1.75"/><circle cx="361.2" cy="256.3" r="1.75"/><circle cx="361.7" cy="254.8" r="1.75"/><circle cx="362.2" cy="253.2" r="1.75"/><circle cx="362.9" cy="251.9" r="1.75"/><circle cx="363.8" cy="253.0" r="1.75"/><circle cx="364.8" cy="254.1" r="1.75"/><circle cx="365.7" cy="255.2" r="1.75"/><circle cx="367.1" cy="256.4" r="1.75"/><circle cx="368.6" cy="257.6" r="1.75"/><circle cx="369.5" cy="256.5" r="1.75"/><circle cx="370.5" cy="255.4" r="1.75"/><circle cx="371.4" cy="254.3" r="1.75"/><circle cx="372.9" cy="255.0" r="1.75"/><circle cx="374.3" cy="255.7" r="1.75"/><circle cx="375.2" cy="257.1" r="1.75"/><circle cx="376.2" cy="258.6" r="1.75"/><circle cx="377.1" cy="260.0" r="1.75"/><circle cx="378.1" cy="258.6" r="1.75"/><circle cx="379.0" cy="257.1" r="1.75"/><circle cx="380.0" cy="255.7" r="1.75"/><circle cx="381.2" cy="255.0" r="1.75"/><circle cx="382.4" cy="254.3" r="1.75"/><circle cx="383.2" cy="255.6" r="1.75"/><circle cx="384.0" cy="256.8" r="1.75"/><circle cx="384.8" cy="258.1" r="1.75"/><circle cx="386.7" cy="259.0" r="1.75"/><circle cx="387.3" cy="257.7" r="1.75"/><circle cx="388.0" cy="256.5" r="1.75"/><circle cx="388.6" cy="255.2" r="1.75"/><circle cx="389.8" cy="256.1" r="1.75"/><circle cx="391.0" cy="257.1" r="1.75"/><circle cx="391.4" cy="259.1" r="1.75"/><circle cx="391.9" cy="261.0" r="1.75"/><circle cx="392.5" cy="259.4" r="1.75"/><circle cx="393.1" cy="257.9" r="1.75"/><circle cx="393.7" cy="256.4" r="1.75"/><circle cx="394.3" cy="254.8" r="1.75"/><circle cx="396.2" cy="253.8" r="1.75"/><circle cx="396.8" cy="255.2" r="1.75"/><circle cx="397.5" cy="256.7" r="1.75"/><circle cx="398.1" cy="258.1" r="1.75"/><circle cx="398.8" cy="259.8" r="1.75"/><circle cx="399.5" cy="261.4" r="1.75"/><circle cx="400.3" cy="260.0" r="1.75"/><circle cx="401.1" cy="258.5" r="1.75"/><circle cx="401.9" cy="257.1" r="1.75"/><circle cx="402.4" cy="258.6" r="1.75"/><circle cx="402.9" cy="260.0" r="1.75"/><circle cx="403.3" cy="261.4" r="1.75"/><circle cx="403.8" cy="262.9" r="1.75"/><circle cx="405.7" cy="263.8" r="1.75"/><circle cx="407.2" cy="262.5" r="1.75"/><circle cx="408.7" cy="261.2" r="1.75"/><circle cx="409.7" cy="262.7" r="1.75"/><circle cx="410.6" cy="264.1" r="1.75"/><circle cx="411.6" cy="265.6" r="1.75"/><circle cx="413.1" cy="266.7" r="1.75"/><circle cx="414.6" cy="267.8" r="1.75"/><circle cx="415.6" cy="269.0" r="1.75"/><circle cx="416.5" cy="270.3" r="1.75"/><circle cx="417.5" cy="271.5" r="1.75"/><circle cx="418.2" cy="273.0" r="1.75"/><circle cx="418.9" cy="271.9" r="1.75"/><circle cx="419.7" cy="270.8" r="1.75"/><circle cx="420.4" cy="269.6" r="1.75"/><circle cx="421.2" cy="268.5" r="1.75"/><circle cx="422.7" cy="268.0" r="1.75"/><circle cx="424.1" cy="267.6" r="1.75"/><circle cx="425.6" cy="267.1" r="1.75"/><circle cx="426.3" cy="268.4" r="1.75"/><circle cx="427.1" cy="269.6" r="1.75"/><circle cx="427.8" cy="270.9" r="1.75"/><circle cx="428.5" cy="272.2" r="1.75"/><circle cx="429.7" cy="273.4" r="1.75"/><circle cx="431.0" cy="274.7" r="1.75"/><circle cx="432.2" cy="275.9" r="1.75"/><circle cx="433.1" cy="277.0" r="1.75"/><circle cx="434.0" cy="278.1" r="1.75"/><circle cx="435.0" cy="279.2" r="1.75"/><circle cx="435.9" cy="280.3" r="1.75"/><circle cx="437.1" cy="281.0" r="1.75"/><circle cx="438.4" cy="281.8" r="1.75"/><circle cx="439.6" cy="282.5" r="1.75"/><circle cx="440.3" cy="284.4" r="1.75"/><circle cx="441.0" cy="286.2" r="1.75"/></g>
<g fill="none" stroke="#000" stroke-width="0.9"><circle cx="441.0" cy="286.2" r="2.0"/><circle cx="443.2" cy="289.1" r="2.0"/><circle cx="443.6" cy="292.1" r="2.0"/><circle cx="444.0" cy="295.0" r="2.0"/><circle cx="444.2" cy="297.1" r="2.0"/></g>
<g fill="none" stroke="#000" stroke-width="1.1"><circle cx="444.2" cy="297.1" r="1.95"/><circle cx="445.3" cy="300.2" r="1.95"/><circle cx="446.3" cy="303.3" r="1.95"/><circle cx="449.5" cy="307.5" r="1.95"/><circle cx="450.5" cy="310.6" r="1.95"/><circle cx="451.5" cy="313.8" r="1.95"/><circle cx="452.6" cy="317.9" r="1.95"/><circle cx="453.6" cy="322.0" r="1.95"/><circle cx="454.1" cy="326.8" r="1.95"/><circle cx="454.7" cy="331.5" r="1.95"/><circle cx="456.8" cy="336.7" r="1.95"/><circle cx="457.8" cy="342.9" r="1.95"/><circle cx="458.9" cy="347.1" r="1.95"/><circle cx="459.9" cy="351.2" r="1.95"/><circle cx="463.0" cy="356.5" r="1.95"/><circle cx="465.1" cy="361.7" r="1.95"/><circle cx="467.2" cy="366.9" r="1.95"/><circle cx="468.2" cy="372.1" r="1.95"/></g>
<g fill="#000" stroke="#000" stroke-width="1.0"><circle cx="445.5" cy="301.5" r="2.0"/><circle cx="446.3" cy="303.3" r="2.0"/><circle cx="448.0" cy="305.0" r="2.0"/><circle cx="449.5" cy="307.5" r="2.0"/><circle cx="454.7" cy="331.5" r="2.0"/><circle cx="455.5" cy="334.0" r="2.0"/><circle cx="456.8" cy="336.7" r="2.0"/><circle cx="461.5" cy="355.0" r="2.0"/><circle cx="463.0" cy="356.5" r="2.0"/><circle cx="464.5" cy="359.0" r="2.0"/><circle cx="470.3" cy="362.7" r="2.0"/></g>
<g fill="none" stroke="#000" stroke-width="0.9"><circle cx="468.2" cy="372.1" r="1.85"/><circle cx="469.2" cy="367.4" r="1.85"/><circle cx="470.3" cy="362.7" r="1.85"/><circle cx="471.3" cy="357.5" r="1.85"/><circle cx="471.7" cy="354.0" r="1.85"/><circle cx="472.0" cy="350.6" r="1.85"/><circle cx="472.4" cy="347.1" r="1.85"/><circle cx="473.4" cy="342.9" r="1.85"/><circle cx="474.5" cy="338.8" r="1.85"/><circle cx="475.5" cy="332.5" r="1.85"/><circle cx="476.0" cy="328.4" r="1.85"/><circle cx="476.5" cy="324.2" r="1.85"/><circle cx="477.1" cy="320.0" r="1.85"/><circle cx="477.6" cy="315.8" r="1.85"/><circle cx="478.1" cy="311.6" r="1.85"/><circle cx="478.6" cy="307.5" r="1.85"/><circle cx="479.6" cy="303.4" r="1.85"/><circle cx="480.7" cy="299.2" r="1.85"/><circle cx="481.8" cy="293.3" r="1.85"/></g>
<line x1="468.30" y1="250.30" x2="468.30" y2="378.00" stroke="#ff1a1a" stroke-width="2.4" stroke-dasharray="5 3"/>
<rect x="318.5" y="232" width="170.5" height="146" fill="none" stroke="#000" stroke-width="1.3"/>
<text x="317.30" y="387.50" font-size="8.8" text-anchor="middle" fill="#000" stroke="#000" stroke-width="0.18" >-4</text>
<line x1="354.70" y1="378.00" x2="354.70" y2="374.00" stroke="#000" stroke-width="1.0" />
<line x1="354.70" y1="232.00" x2="354.70" y2="236.00" stroke="#000" stroke-width="1.0" />
<text x="354.70" y="387.50" font-size="8.8" text-anchor="middle" fill="#000" stroke="#000" stroke-width="0.18" >-2</text>
<line x1="392.10" y1="378.00" x2="392.10" y2="374.00" stroke="#000" stroke-width="1.0" />
<line x1="392.10" y1="232.00" x2="392.10" y2="236.00" stroke="#000" stroke-width="1.0" />
<text x="392.10" y="387.50" font-size="8.8" text-anchor="middle" fill="#000" stroke="#000" stroke-width="0.18" >0</text>
<line x1="429.50" y1="378.00" x2="429.50" y2="374.00" stroke="#000" stroke-width="1.0" />
<line x1="429.50" y1="232.00" x2="429.50" y2="236.00" stroke="#000" stroke-width="1.0" />
<text x="429.50" y="387.50" font-size="8.8" text-anchor="middle" fill="#000" stroke="#000" stroke-width="0.18" >2</text>
<line x1="466.90" y1="378.00" x2="466.90" y2="374.00" stroke="#000" stroke-width="1.0" />
<line x1="466.90" y1="232.00" x2="466.90" y2="236.00" stroke="#000" stroke-width="1.0" />
<text x="466.90" y="387.50" font-size="8.8" text-anchor="middle" fill="#000" stroke="#000" stroke-width="0.18" >4</text>
<line x1="318.50" y1="253.80" x2="322.50" y2="253.80" stroke="#000" stroke-width="1.0" />
<text x="316.60" y="257.80" font-size="8.9" text-anchor="end" fill="#000" stroke="#000" stroke-width="0.18" >0</text>
<line x1="318.50" y1="274.46" x2="322.50" y2="274.46" stroke="#000" stroke-width="1.0" />
<text x="316.60" y="278.46" font-size="8.9" text-anchor="end" fill="#000" stroke="#000" stroke-width="0.18" >-0.2</text>
<line x1="318.50" y1="295.12" x2="322.50" y2="295.12" stroke="#000" stroke-width="1.0" />
<text x="316.60" y="299.12" font-size="8.9" text-anchor="end" fill="#000" stroke="#000" stroke-width="0.18" >-0.4</text>
<line x1="318.50" y1="315.78" x2="322.50" y2="315.78" stroke="#000" stroke-width="1.0" />
<text x="316.60" y="319.78" font-size="8.9" text-anchor="end" fill="#000" stroke="#000" stroke-width="0.18" >-0.6</text>
<line x1="318.50" y1="336.44" x2="322.50" y2="336.44" stroke="#000" stroke-width="1.0" />
<text x="316.60" y="340.44" font-size="8.9" text-anchor="end" fill="#000" stroke="#000" stroke-width="0.18" >-0.8</text>
<line x1="318.50" y1="357.10" x2="322.50" y2="357.10" stroke="#000" stroke-width="1.0" />
<text x="316.60" y="361.10" font-size="8.9" text-anchor="end" fill="#000" stroke="#000" stroke-width="0.18" >-1</text>
<line x1="489.00" y1="232.00" x2="485.00" y2="232.00" stroke="#000" stroke-width="1.0" />
<line x1="489.00" y1="259.47" x2="487.00" y2="259.47" stroke="#000" stroke-width="0.8" />
<line x1="489.00" y1="252.55" x2="487.00" y2="252.55" stroke="#000" stroke-width="0.8" />
<line x1="489.00" y1="247.64" x2="487.00" y2="247.64" stroke="#000" stroke-width="0.8" />
<line x1="489.00" y1="243.83" x2="487.00" y2="243.83" stroke="#000" stroke-width="0.8" />
<line x1="489.00" y1="240.72" x2="487.00" y2="240.72" stroke="#000" stroke-width="0.8" />
<line x1="489.00" y1="238.09" x2="487.00" y2="238.09" stroke="#000" stroke-width="0.8" />
<line x1="489.00" y1="235.81" x2="487.00" y2="235.81" stroke="#000" stroke-width="0.8" />
<line x1="489.00" y1="233.80" x2="487.00" y2="233.80" stroke="#000" stroke-width="0.8" />
<line x1="489.00" y1="271.30" x2="485.00" y2="271.30" stroke="#000" stroke-width="1.0" />
<line x1="489.00" y1="298.77" x2="487.00" y2="298.77" stroke="#000" stroke-width="0.8" />
<line x1="489.00" y1="291.85" x2="487.00" y2="291.85" stroke="#000" stroke-width="0.8" />
<line x1="489.00" y1="286.94" x2="487.00" y2="286.94" stroke="#000" stroke-width="0.8" />
<line x1="489.00" y1="283.13" x2="487.00" y2="283.13" stroke="#000" stroke-width="0.8" />
<line x1="489.00" y1="280.02" x2="487.00" y2="280.02" stroke="#000" stroke-width="0.8" />
<line x1="489.00" y1="277.39" x2="487.00" y2="277.39" stroke="#000" stroke-width="0.8" />
<line x1="489.00" y1="275.11" x2="487.00" y2="275.11" stroke="#000" stroke-width="0.8" />
<line x1="489.00" y1="273.10" x2="487.00" y2="273.10" stroke="#000" stroke-width="0.8" />
<line x1="489.00" y1="310.60" x2="485.00" y2="310.60" stroke="#000" stroke-width="1.0" />
<line x1="489.00" y1="338.07" x2="487.00" y2="338.07" stroke="#000" stroke-width="0.8" />
<line x1="489.00" y1="331.15" x2="487.00" y2="331.15" stroke="#000" stroke-width="0.8" />
<line x1="489.00" y1="326.24" x2="487.00" y2="326.24" stroke="#000" stroke-width="0.8" />
<line x1="489.00" y1="322.43" x2="487.00" y2="322.43" stroke="#000" stroke-width="0.8" />
<line x1="489.00" y1="319.32" x2="487.00" y2="319.32" stroke="#000" stroke-width="0.8" />
<line x1="489.00" y1="316.69" x2="487.00" y2="316.69" stroke="#000" stroke-width="0.8" />
<line x1="489.00" y1="314.41" x2="487.00" y2="314.41" stroke="#000" stroke-width="0.8" />
<line x1="489.00" y1="312.40" x2="487.00" y2="312.40" stroke="#000" stroke-width="0.8" />
<line x1="489.00" y1="349.90" x2="485.00" y2="349.90" stroke="#000" stroke-width="1.0" />
<text stroke="#000" stroke-width="0.18" x="493.3" y="236.9" font-size="8.2">10<tspan font-size="6" dy="-4">0</tspan></text>
<text stroke="#000" stroke-width="0.18" x="493.3" y="276.2" font-size="8.2">10<tspan font-size="6" dy="-4">-1</tspan></text>
<text stroke="#000" stroke-width="0.18" x="493.3" y="315.5" font-size="8.2">10<tspan font-size="6" dy="-4">-2</tspan></text>
<text stroke="#000" stroke-width="0.18" x="493.3" y="354.8" font-size="8.2">10<tspan font-size="6" dy="-4">-3</tspan></text>
<text x="403.50" y="402.00" font-size="10.5" text-anchor="middle" fill="#000" stroke="#000" stroke-width="0.18" >Tip Displacement z (&#197;)</text>
<text stroke="#000" stroke-width="0.18" transform="translate(292.6,296.3) rotate(-90)" font-size="11.05" text-anchor="middle">Short-Range Force F<tspan font-size="7.5" dy="2">S</tspan><tspan dy="-2"> (nN)</tspan></text>
<text stroke="#000" stroke-width="0.18" transform="translate(521.4,304.2) rotate(-90)" font-size="11.6" text-anchor="middle">Conductance G (G<tspan font-size="8" dy="1.5">0</tspan><tspan dy="-1.5">)</tspan></text>
<text x="307.80" y="220.60" font-size="19.5" text-anchor="start" fill="#000" stroke="#000" stroke-width="0.18" >d</text>
<text x="352.00" y="321.30" font-size="16.3" text-anchor="start" fill="#000" stroke="#000" stroke-width="0.18" >TATA</text>
<g fill="none" stroke="#000" stroke-width="1.0"><circle cx="329.5" cy="352.0" r="1.8"/></g>
<text x="339.50" y="355.00" font-size="8.4" text-anchor="start" fill="#000" stroke="#000" stroke-width="0.18" >Force</text>
<g fill="none" stroke="#2a2aff" stroke-width="1.0"><rect x="328.0" y="362.2" width="3" height="3"/></g>
<text x="339.50" y="366.90" font-size="8.2" text-anchor="start" fill="#000" stroke="#000" stroke-width="0.18" >Conductance</text>
</svg></body></html>
